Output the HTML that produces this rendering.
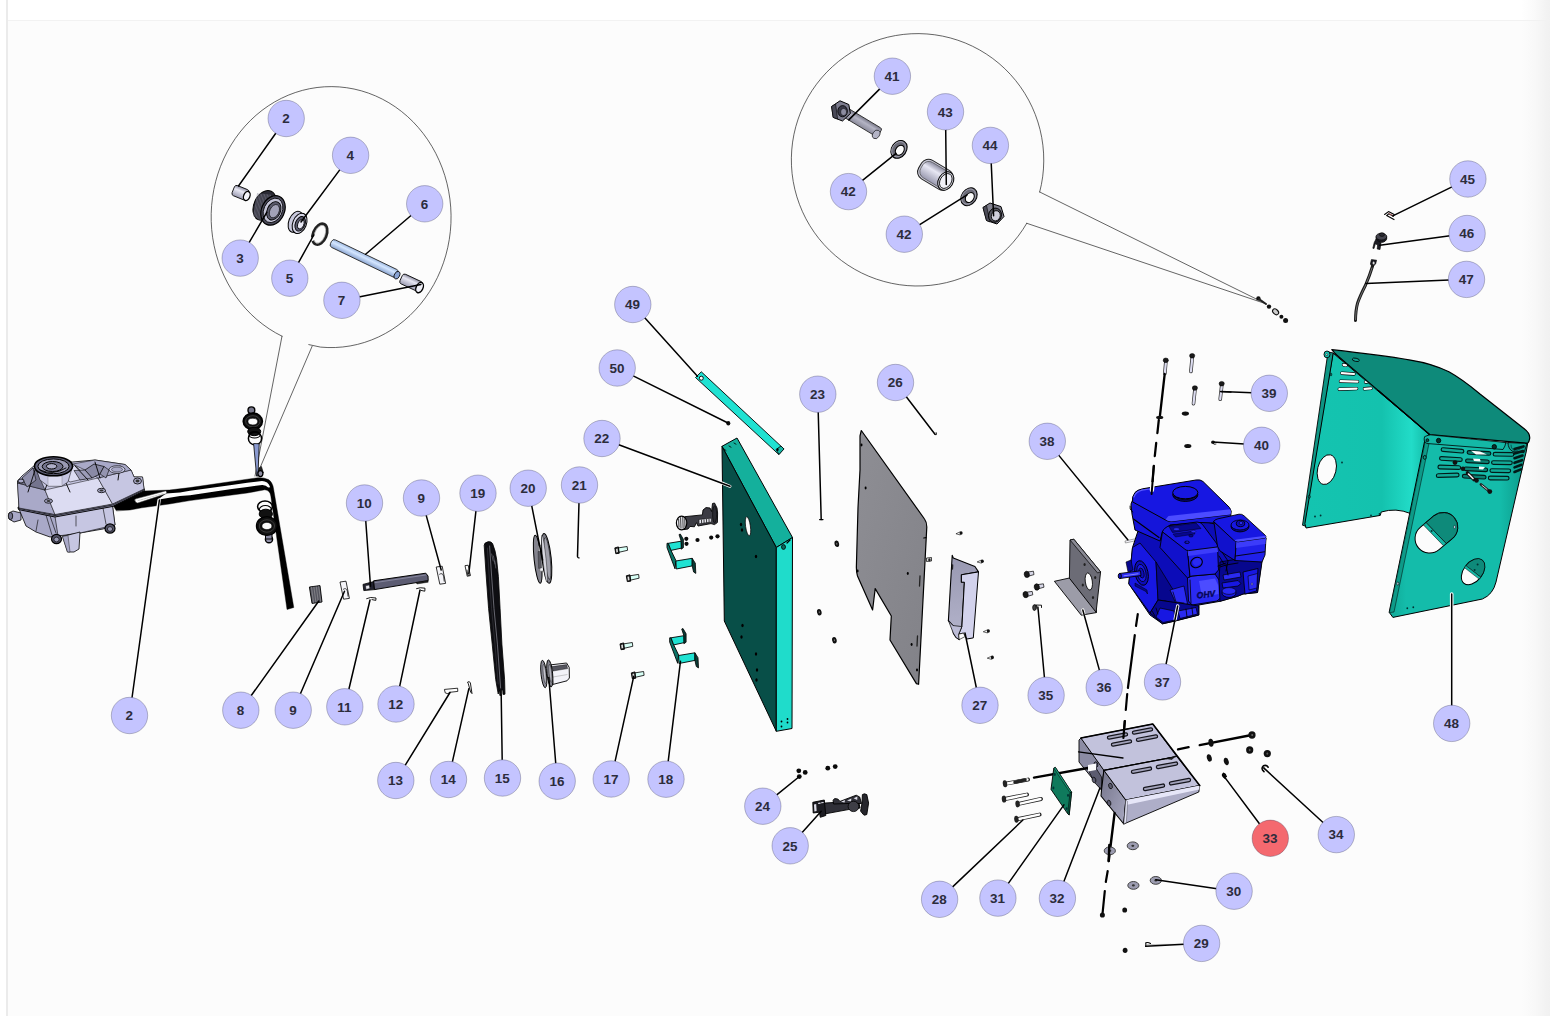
<!DOCTYPE html>
<html><head><meta charset="utf-8"><title>Exploded parts diagram</title>
<style>
html,body{margin:0;padding:0;background:#fff;}
body{width:1554px;height:1016px;overflow:hidden;position:relative;font-family:"Liberation Sans",sans-serif;}
svg{position:absolute;left:0;top:0;display:block}
text{font-family:"Liberation Sans",sans-serif;font-weight:700;font-size:12.6px;fill:#2c2c3c;}
</style></head><body>
<svg width="1554" height="1016" viewBox="0 0 1554 1016">
<defs>
<linearGradient id="rs" x1="0" x2="1" y1="0" y2="0"><stop offset="0" stop-color="#f3f3f3" stop-opacity="0"/><stop offset="0.45" stop-color="#f3f3f3" stop-opacity="0.4"/><stop offset="0.85" stop-color="#f2f2f2" stop-opacity="0.95"/><stop offset="1" stop-color="#f1f1f1" stop-opacity="1"/></linearGradient>
<linearGradient id="gp" x1="0" x2="1" y1="0" y2="1"><stop offset="0" stop-color="#8e8e94"/><stop offset="1" stop-color="#828288"/></linearGradient><linearGradient id="p27" x1="0" x2="0" y1="0" y2="1"><stop offset="0" stop-color="#9898b0"/><stop offset="1" stop-color="#b4b4cc"/></linearGradient><linearGradient id="b32l" x1="0" x2="1" y1="0" y2="1"><stop offset="0" stop-color="#74748a"/><stop offset="1" stop-color="#a8a8c0"/></linearGradient><linearGradient id="cvL" x1="0" x2="1" y1="0" y2="0"><stop offset="0" stop-color="#14c4b0"/><stop offset="0.62" stop-color="#14c2ae"/><stop offset="0.86" stop-color="#22dcc8"/><stop offset="1" stop-color="#12b8a4"/></linearGradient><linearGradient id="cvF" x1="0" x2="1" y1="0" y2="0"><stop offset="0" stop-color="#10a896"/><stop offset="0.12" stop-color="#14bcaa"/><stop offset="0.8" stop-color="#14bcaa"/><stop offset="1" stop-color="#0c9686"/></linearGradient><linearGradient id="cy1" x1="0" x2="0" y1="0" y2="1"><stop offset="0" stop-color="#8c8ca0"/><stop offset="0.35" stop-color="#e8e8f4"/><stop offset="1" stop-color="#9a9ab0"/></linearGradient><linearGradient id="cy2" x1="0" x2="0" y1="0" y2="1"><stop offset="0" stop-color="#787888"/><stop offset="0.4" stop-color="#b4b4c4"/><stop offset="1" stop-color="#8a8a9a"/></linearGradient><linearGradient id="rodb" x1="0" x2="0" y1="0" y2="1"><stop offset="0" stop-color="#9db8e0"/><stop offset="0.4" stop-color="#d4e6ff"/><stop offset="1" stop-color="#8aa4d0"/></linearGradient>
</defs>
<rect x="0" y="0" width="1554" height="1016" fill="#ffffff"/>
<rect x="8" y="21" width="1542" height="995" fill="#fcfcfc"/>
<rect x="1521" y="0" width="29" height="1016" fill="url(#rs)"/>
<rect x="6" y="0" width="2" height="1016" fill="#ebebeb"/>
<rect x="8" y="20" width="1542" height="1" fill="#f2f2f2"/>
<g id="parts">
<path d="M 282,336.2 A 120,130.5 0 1 1 320.5,347.1 L 308.8,344.6" fill="none" stroke="#222" stroke-width="0.7" stroke-linejoin="round" stroke-linecap="round" />
<line x1="282.0" y1="336.2" x2="255.0" y2="476.0" stroke="#222" stroke-width="0.7" stroke-linecap="round" />
<line x1="312.1" y1="346.3" x2="256.5" y2="476.0" stroke="#222" stroke-width="0.7" stroke-linecap="round" />
<path d="M 1039.69,191.99 A 126.25,126.25 0 1 0 1026.76,223.28" fill="none" stroke="#222" stroke-width="0.7" stroke-linejoin="round" stroke-linecap="round" />
<line x1="1039.7" y1="192.0" x2="1266.0" y2="303.8" stroke="#222" stroke-width="0.7" stroke-linecap="round" />
<line x1="1026.8" y1="223.3" x2="1266.0" y2="303.8" stroke="#222" stroke-width="0.7" stroke-linecap="round" />
<polygon points="9.0,513.0 13.0,511.0 21.0,513.0 21.0,520.0 14.0,522.0 9.0,519.0" fill="#a9a9c8" stroke="#000" stroke-width="0.8" stroke-linejoin="round" />
<ellipse cx="10.5" cy="516.0" rx="2.2" ry="3.6" fill="#74748e" stroke="#000" stroke-width="0.8" />
<polygon points="19.0,509.0 55.0,516.5 112.5,506.0 115.0,525.0 103.0,529.0 80.0,533.0 50.0,537.0 36.0,532.0 26.0,526.0" fill="#a9a9c8" stroke="#000" stroke-width="0.8" stroke-linejoin="round" />
<polygon points="55.0,516.5 112.5,506.0 115.0,525.0 80.0,533.0 58.0,536.0" fill="#c6c6e2" stroke="#000" stroke-width="0.6" stroke-linejoin="round" />
<polygon points="62.5,536.5 80.0,532.0 79.0,549.0 74.0,552.0 67.5,552.0" fill="#c6c6e2" stroke="#000" stroke-width="0.8" stroke-linejoin="round" />
<polygon points="62.5,536.5 68.0,535.5 70.0,552.0 67.5,552.0" fill="#a9a9c8" stroke="#000" stroke-width="0.4" stroke-linejoin="round" />
<polygon points="17.5,481.0 22.0,476.0 35.0,465.0 50.0,460.0 72.5,462.0 95.0,460.0 125.0,464.5 131.0,470.0 134.0,477.0 142.5,477.0 144.0,489.0 112.5,504.0 55.0,514.5 19.0,508.0" fill="#c6c6e2" stroke="#000" stroke-width="0.8" stroke-linejoin="round" />
<polygon points="18.0,507.0 55.0,514.2 112.5,503.6 144.0,488.6 144.6,490.6 113.0,506.4 55.0,517.0 18.5,509.6" fill="#8c8ca8" stroke="#000" stroke-width="0.9" stroke-linejoin="round" />
<path d="M 18.2,508.3 L 55,515.6 L 112.8,505 L 144.3,489.6" fill="none" stroke="#000" stroke-width="0.7" stroke-linejoin="round" stroke-linecap="round" />
<polygon points="19.0,508.0 17.5,483.0 45.0,490.0 55.0,514.5" fill="#a9a9c8" stroke="#000" stroke-width="0.5" stroke-linejoin="round" />
<polygon points="55.0,514.5 45.0,490.0 98.0,478.0 112.5,504.0" fill="#dcdcf2" stroke="#000" stroke-width="0.5" stroke-linejoin="round" />
<polygon points="112.5,504.0 98.0,478.0 131.0,470.0 134.0,477.0 142.5,477.0 144.0,489.0" fill="#c6c6e2" stroke="#000" stroke-width="0.5" stroke-linejoin="round" />
<polygon points="72.5,464.0 95.0,460.0 125.0,464.5 131.0,470.0 98.0,478.0 85.0,470.0" fill="#a9a9c8" stroke="#000" stroke-width="0.5" stroke-linejoin="round" />
<polygon points="17.5,483.0 35.0,467.0 45.0,490.0" fill="#74748e" stroke="#000" stroke-width="0.5" stroke-linejoin="round" />
<polygon points="62.0,475.0 75.0,465.0 88.0,478.0 70.0,482.0" fill="#dcdcf2" stroke="#000" stroke-width="0.5" stroke-linejoin="round" />
<polygon points="85.0,470.0 94.0,464.0 104.0,466.5 100.0,474.0 92.0,478.0" fill="#8a8aa6" stroke="#000" stroke-width="0.7" stroke-linejoin="round" />
<polygon points="74.0,470.5 85.0,470.0 92.0,478.0 80.0,480.0" fill="#9c9cb8" stroke="#000" stroke-width="0.6" stroke-linejoin="round" />
<polygon points="100.0,474.0 104.0,466.5 109.0,470.0 106.0,478.0" fill="#9494b0" stroke="#000" stroke-width="0.6" stroke-linejoin="round" />
<polygon points="22.0,478.0 33.0,468.0 36.0,480.0 27.0,487.0" fill="#9090ac" stroke="#000" stroke-width="0.6" stroke-linejoin="round" />
<line x1="35.0" y1="470.0" x2="28.0" y2="492.0" stroke="#000" stroke-width="0.9" stroke-linecap="round" />
<line x1="50.0" y1="476.0" x2="45.0" y2="490.0" stroke="#000" stroke-width="0.9" stroke-linecap="round" />
<line x1="62.0" y1="474.0" x2="70.0" y2="492.0" stroke="#000" stroke-width="0.9" stroke-linecap="round" />
<line x1="75.0" y1="466.0" x2="88.0" y2="480.0" stroke="#000" stroke-width="0.9" stroke-linecap="round" />
<line x1="95.0" y1="462.0" x2="100.0" y2="478.0" stroke="#000" stroke-width="0.9" stroke-linecap="round" />
<line x1="120.0" y1="466.0" x2="118.0" y2="480.0" stroke="#000" stroke-width="0.9" stroke-linecap="round" />
<ellipse cx="117.0" cy="469.5" rx="8.0" ry="3.8" fill="#c6c6e2" stroke="#000" stroke-width="0.6" />
<ellipse cx="117.0" cy="469.5" rx="5.5" ry="2.4" fill="#a9a9c8" stroke="#000" stroke-width="0.4" />
<polygon points="36.0,468.0 72.0,468.0 68.0,482.0 62.0,486.0 48.0,486.0 40.0,480.0" fill="#c6c6e2" stroke="#000" stroke-width="0.5" stroke-linejoin="round" />
<polygon points="48.0,476.0 62.0,476.0 62.0,486.0 48.0,486.0" fill="#dcdcf2" stroke="#555" stroke-width="0.3" stroke-linejoin="round" />
<ellipse cx="53.5" cy="466.3" rx="19.0" ry="9.5" fill="#62627a" stroke="#000" stroke-width="1.6" />
<ellipse cx="53.5" cy="466.3" rx="15.6" ry="7.4" fill="#9a9ab4" stroke="#000" stroke-width="1" />
<ellipse cx="52.6" cy="466.5" rx="10.4" ry="5.0" fill="#74748e" stroke="#000" stroke-width="1" />
<ellipse cx="51.6" cy="466.3" rx="5.2" ry="2.7" fill="#aeaec8" stroke="#000" stroke-width="1" />
<path d="M 40,470 Q 53,476 66,468" fill="none" stroke="#000" stroke-width="0.9" stroke-linejoin="round" stroke-linecap="round" />
<ellipse cx="48.5" cy="501.0" rx="4.0" ry="2.2" fill="#a9a9c8" stroke="#000" stroke-width="0.8" />
<ellipse cx="48.5" cy="501.0" rx="2.0" ry="1.0" fill="#333" stroke="#000" stroke-width="0" />
<ellipse cx="101.5" cy="490.5" rx="4.0" ry="2.2" fill="#a9a9c8" stroke="#000" stroke-width="0.8" />
<ellipse cx="101.5" cy="490.5" rx="2.0" ry="1.0" fill="#333" stroke="#000" stroke-width="0" />
<ellipse cx="137.5" cy="481.0" rx="4.0" ry="3.0" fill="#a9a9c8" stroke="#000" stroke-width="0.8" />
<ellipse cx="137.5" cy="481.0" rx="2.0" ry="1.4" fill="#333" stroke="#000" stroke-width="0" />
<ellipse cx="21.0" cy="481.0" rx="3.0" ry="2.0" fill="#a9a9c8" stroke="#000" stroke-width="0.8" />
<ellipse cx="56.5" cy="539.0" rx="5.0" ry="4.6" fill="#55556a" stroke="#000" stroke-width="1.2" />
<ellipse cx="56.5" cy="539.5" rx="2.6" ry="2.4" fill="#9a9ab4" stroke="#000" stroke-width="0.7" />
<ellipse cx="110.0" cy="528.5" rx="5.0" ry="4.6" fill="#55556a" stroke="#000" stroke-width="1.2" />
<ellipse cx="110.0" cy="529.0" rx="2.6" ry="2.4" fill="#9a9ab4" stroke="#000" stroke-width="0.7" />
<line x1="46.0" y1="515.0" x2="52.0" y2="535.0" stroke="#000" stroke-width="0.6" stroke-linecap="round" />
<line x1="50.0" y1="516.0" x2="56.0" y2="533.0" stroke="#000" stroke-width="0.6" stroke-linecap="round" />
<line x1="103.0" y1="508.0" x2="106.0" y2="524.0" stroke="#000" stroke-width="0.6" stroke-linecap="round" />
<line x1="76.0" y1="516.0" x2="76.0" y2="526.0" stroke="#000" stroke-width="0.6" stroke-linecap="round" />
<line x1="38.0" y1="520.0" x2="36.0" y2="531.0" stroke="#000" stroke-width="0.6" stroke-linecap="round" />
<path d="M 116.2,510.6 L 113.5,506 L 143.8,491 L 169.4,490 L 190,487.6 L 230,481.7 L 247.3,479.2 L 258,477.7 Q 264,477.3 268.5,479.6 Q 272.6,482.2 273.6,489 L 293.8,607.5 L 287,609.5 L 270.8,496 Q 270,490.4 264.8,489.8 L 247.3,493 L 230,495.3 L 190,500.6 L 169.4,504 L 141.8,507.8 L 130,510 Z" fill="#000" stroke="#000" stroke-width="0.4" stroke-linejoin="round" stroke-linecap="round" />
<path d="M 157.6,499.8 L 166,493.6 L 180,492.5 L 190,490.8 L 230,485.2 L 247.3,482.8 L 262,481 Q 268,481 270.2,487.2 L 268.2,487.6 Q 266,484.8 262,485 L 247.3,487 L 230,489.3 L 190,495.2 L 180,495.9 L 169.4,497.7 Z" fill="#fcfcfc" stroke="none" stroke-width="0" stroke-linejoin="round" stroke-linecap="round" />
<path d="M 134.7,500.2 Q 134.4,499.4 136,498.8 L 165.6,490.9 Q 167,491.4 166.6,493.6 L 137.6,503 Q 135.4,502.8 134.7,500.2 Z" fill="#fff" stroke="#444" stroke-width="0.5" stroke-linejoin="round" stroke-linecap="round" />
<path d="M 138,500.6 L 164,493.4" fill="none" stroke="#999" stroke-width="0.5" stroke-linejoin="round" stroke-linecap="round" stroke-dasharray="2 1"/>
<line x1="159.1" y1="500.1" x2="158.2" y2="506.5" stroke="#fcfcfc" stroke-width="3.4" stroke-linecap="round" stroke-linecap="butt"/>
<ellipse cx="251.4" cy="410.3" rx="3.4" ry="3.4" fill="#77778a" stroke="#000" stroke-width="1.4" />
<ellipse cx="252.8" cy="421.3" rx="9.6" ry="8.2" fill="#111" stroke="#000" stroke-width="1.6" />
<ellipse cx="252.8" cy="421.3" rx="7.2" ry="5.6" fill="none" stroke="#666" stroke-width="0.5" />
<ellipse cx="252.8" cy="421.6" rx="4.8" ry="3.3" fill="#fcfcfc" stroke="#000" stroke-width="0.5" />
<ellipse cx="254.2" cy="431.5" rx="6.5" ry="4.2" fill="#111" stroke="#000" stroke-width="1" />
<ellipse cx="255.0" cy="438.5" rx="6.6" ry="6.4" fill="none" stroke="#000" stroke-width="1.5" />
<ellipse cx="254.6" cy="434.8" rx="5.6" ry="3.2" fill="none" stroke="#000" stroke-width="1.2" />
<polygon points="253.6,443.5 259.2,443.8 258.0,476.0 256.6,476.0" fill="#8a9ad0" stroke="#000" stroke-width="0.8" stroke-linejoin="round" />
<ellipse cx="265.0" cy="506.6" rx="7.4" ry="5.6" fill="none" stroke="#000" stroke-width="1.5" />
<ellipse cx="265.4" cy="509.5" rx="6.0" ry="4.0" fill="none" stroke="#000" stroke-width="1.1" />
<ellipse cx="265.8" cy="514.0" rx="6.6" ry="4.8" fill="#111" stroke="#000" stroke-width="1" />
<ellipse cx="269.0" cy="539.2" rx="3.6" ry="3.6" fill="#9090a8" stroke="#000" stroke-width="1.4" />
<polygon points="265.5,533.0 272.0,533.0 272.0,539.0 265.5,539.0" fill="#8888a0" stroke="#000" stroke-width="1" stroke-linejoin="round" />
<ellipse cx="266.9" cy="526.0" rx="10.4" ry="9.4" fill="#111" stroke="#000" stroke-width="1.4" />
<ellipse cx="266.9" cy="526.0" rx="7.6" ry="6.2" fill="none" stroke="#666" stroke-width="0.5" />
<ellipse cx="266.9" cy="526.0" rx="5.0" ry="3.6" fill="#fcfcfc" stroke="#000" stroke-width="0.5" />
<polygon points="259.0,468.0 261.4,466.4 263.4,473.0 258.0,473.0" fill="#222" stroke="#000" stroke-width="0.6" stroke-linejoin="round" />
<ellipse cx="260.4" cy="473.6" rx="2.5" ry="3.0" fill="#8e8ea2" stroke="#000" stroke-width="1.3" />
<polygon points="722.0,446.3 737.0,438.0 792.5,537.5 776.3,547.5" fill="#14b09c" stroke="#000" stroke-width="1" stroke-linejoin="round" />
<polygon points="722.0,446.3 776.3,547.5 776.3,731.3 724.3,621.0" fill="#084f48" stroke="#000" stroke-width="1" stroke-linejoin="round" />
<polygon points="776.3,547.5 792.5,537.5 792.0,728.5 776.3,731.3" fill="#1fdccb" stroke="#000" stroke-width="1" stroke-linejoin="round" />
<ellipse cx="748.0" cy="526.3" rx="2.4" ry="9.6" fill="#fcfcfc" stroke="#000" stroke-width="0.7" transform="rotate(-8 748.0 526.3)" />
<ellipse cx="741.0" cy="524.5" rx="1.2" ry="1.8" fill="#000" stroke="#000" stroke-width="0" />
<ellipse cx="742.0" cy="530.0" rx="1.2" ry="1.8" fill="#000" stroke="#000" stroke-width="0" />
<ellipse cx="756.0" cy="556.5" rx="1.2" ry="1.8" fill="#000" stroke="#000" stroke-width="0" />
<ellipse cx="742.5" cy="625.5" rx="1.2" ry="1.8" fill="#000" stroke="#000" stroke-width="0" />
<ellipse cx="741.5" cy="637.0" rx="1.2" ry="1.8" fill="#000" stroke="#000" stroke-width="0" />
<ellipse cx="756.0" cy="654.0" rx="1.2" ry="1.8" fill="#000" stroke="#000" stroke-width="0" />
<ellipse cx="757.0" cy="670.0" rx="1.2" ry="1.8" fill="#000" stroke="#000" stroke-width="0" />
<ellipse cx="756.5" cy="680.0" rx="1.2" ry="1.8" fill="#000" stroke="#000" stroke-width="0" />
<ellipse cx="781.5" cy="721.5" rx="0.9" ry="0.9" fill="#000" stroke="#000" stroke-width="0" />
<ellipse cx="787.5" cy="722.5" rx="0.9" ry="0.9" fill="#000" stroke="#000" stroke-width="0" />
<ellipse cx="781.5" cy="726.5" rx="0.9" ry="0.9" fill="#000" stroke="#000" stroke-width="0" />
<ellipse cx="787.5" cy="719.0" rx="0.9" ry="0.9" fill="#000" stroke="#000" stroke-width="0" />
<ellipse cx="783.5" cy="547.0" rx="2.0" ry="2.4" fill="#0a6a5e" stroke="#000" stroke-width="0.8" />
<path d="M 724,449 l 2,1.5 M 729,446 l 2,1.2 M 734,443 l 2,1.2" fill="none" stroke="#000" stroke-width="0.8" stroke-linejoin="round" stroke-linecap="round" />
<path d="M 790,540 l -3,3" fill="none" stroke="#000" stroke-width="1.2" stroke-linejoin="round" stroke-linecap="round" />
<line x1="722.0" y1="483.0" x2="730.0" y2="486.3" stroke="#fcfcfc" stroke-width="3" stroke-linecap="round" />
<polygon points="695.5,377.5 701.3,371.8 783.8,448.8 778.8,454.5" fill="#1fe2d2" stroke="#000" stroke-width="0.9" stroke-linejoin="round" />
<ellipse cx="701.3" cy="378.2" rx="2.0" ry="2.0" fill="#fcfcfc" stroke="#000" stroke-width="0.9" />
<polygon points="776.0,449.5 781.0,446.0 784.0,449.0 779.0,454.5" fill="#17b5a5" stroke="#000" stroke-width="0.8" stroke-linejoin="round" />
<ellipse cx="777.6" cy="449.5" rx="1.0" ry="1.5" fill="#000" stroke="#000" stroke-width="0" />
<ellipse cx="728.3" cy="423.3" rx="2.0" ry="2.2" fill="#111" stroke="#000" stroke-width="0" />
<polygon points="667.0,543.3 668.3,543.3 671.0,550.4 675.9,560.5 675.0,568.8 667.0,547.6" fill="#0b7568" stroke="#000" stroke-width="0.9" stroke-linejoin="round" />
<polygon points="668.3,543.3 681.2,541.2 681.6,548.1 671.0,550.4" fill="#1fe2d2" stroke="#000" stroke-width="0.9" stroke-linejoin="round" />
<polygon points="679.0,534.6 680.3,534.0 683.4,539.3 683.4,547.7 681.2,549.2 681.2,541.2" fill="#0a3c36" stroke="#000" stroke-width="0.8" stroke-linejoin="round" />
<polygon points="675.9,561.0 692.2,558.3 692.2,565.9 676.3,569.0" fill="#1fe2d2" stroke="#000" stroke-width="0.9" stroke-linejoin="round" />
<polygon points="692.2,558.3 695.3,563.2 695.8,573.4 693.6,572.0 692.2,565.9" fill="#0a3c36" stroke="#000" stroke-width="0.8" stroke-linejoin="round" />
<polygon points="669.7,637.8 671.0,637.8 673.7,644.9 678.6,655.0 677.7,663.3 669.7,642.1" fill="#0b7568" stroke="#000" stroke-width="0.9" stroke-linejoin="round" />
<polygon points="671.0,637.8 683.9,635.7 684.3,642.6 673.7,644.9" fill="#1fe2d2" stroke="#000" stroke-width="0.9" stroke-linejoin="round" />
<polygon points="681.7,629.1 683.0,628.5 686.1,633.8 686.1,642.2 683.9,643.7 683.9,635.7" fill="#0a3c36" stroke="#000" stroke-width="0.8" stroke-linejoin="round" />
<polygon points="678.6,655.5 694.9,652.8 694.9,660.4 679.0,663.5" fill="#1fe2d2" stroke="#000" stroke-width="0.9" stroke-linejoin="round" />
<polygon points="694.9,652.8 698.0,657.7 698.5,667.9 696.3,666.5 694.9,660.4" fill="#0a3c36" stroke="#000" stroke-width="0.8" stroke-linejoin="round" />
<polygon points="618.3,547.9 627.1,546.5 627.6,550.3 618.8,552.3" fill="#d8fff6" stroke="#000" stroke-width="0.8" stroke-linejoin="round" />
<polygon points="614.8,547.9 618.4,546.9 619.2,553.3 615.8,553.7" fill="#222" stroke="#000" stroke-width="0.9" stroke-linejoin="round" />
<polygon points="616.0,548.9 617.6,548.5 618.0,552.1 616.4,552.5" fill="#ddd" stroke="#000" stroke-width="0" stroke-linejoin="round" />
<polygon points="629.8,575.8 638.6,574.4 639.1,578.2 630.3,580.2" fill="#d8fff6" stroke="#000" stroke-width="0.8" stroke-linejoin="round" />
<polygon points="626.3,575.8 629.9,574.8 630.7,581.2 627.3,581.6" fill="#222" stroke="#000" stroke-width="0.9" stroke-linejoin="round" />
<polygon points="627.5,576.8 629.1,576.4 629.5,580.0 627.9,580.4" fill="#ddd" stroke="#000" stroke-width="0" stroke-linejoin="round" />
<polygon points="623.5,643.9 632.3,642.5 632.8,646.3 624.0,648.3" fill="#d8fff6" stroke="#000" stroke-width="0.8" stroke-linejoin="round" />
<polygon points="620.0,643.9 623.6,642.9 624.4,649.3 621.0,649.7" fill="#222" stroke="#000" stroke-width="0.9" stroke-linejoin="round" />
<polygon points="621.2,644.9 622.8,644.5 623.2,648.1 621.6,648.5" fill="#ddd" stroke="#000" stroke-width="0" stroke-linejoin="round" />
<polygon points="634.8,672.9 643.6,671.5 644.1,675.3 635.3,677.3" fill="#d8fff6" stroke="#000" stroke-width="0.8" stroke-linejoin="round" />
<polygon points="631.3,672.9 634.9,671.9 635.7,678.3 632.3,678.7" fill="#222" stroke="#000" stroke-width="0.9" stroke-linejoin="round" />
<polygon points="632.5,673.9 634.1,673.5 634.5,677.1 632.9,677.5" fill="#ddd" stroke="#000" stroke-width="0" stroke-linejoin="round" />
<polygon points="684.7,516.7 702.4,514.9 703.0,510.0 706.0,507.6 710.0,508.0 711.6,511.5 712.5,503.5 714.5,503.0 717.0,508.0 717.6,513.0 717.4,522.5 714.5,524.6 711.0,523.6 698.0,526.0 696.6,522.6 694.4,526.8 690.0,526.4 688.0,529.0 684.0,529.6" fill="#3c3c44" stroke="#000" stroke-width="0.9" stroke-linejoin="round" />
<polygon points="699.0,519.5 711.3,518.2 711.3,522.0 699.1,523.8" fill="#e6e6ee" stroke="#000" stroke-width="0.5" stroke-linejoin="round" />
<path d="M 701.5,520 l 0.1,3 M 704,519.8 l 0.1,3 M 706.5,519.5 l 0.1,3 M 709,519.2 l 0.1,3" fill="none" stroke="#222" stroke-width="0.9" stroke-linejoin="round" stroke-linecap="round" />
<ellipse cx="714.6" cy="514.4" rx="2.0" ry="8.6" fill="#2a2a30" stroke="#000" stroke-width="0.6" />
<ellipse cx="681.6" cy="523.0" rx="5.2" ry="6.8" fill="#f0f0f6" stroke="#000" stroke-width="1.2" />
<path d="M 678.6,519 l 0.4,8 M 680.6,517.6 l 0.4,10.6 M 682.8,517.4 l 0.3,10.8 M 684.8,518.6 l 0.2,8.4" fill="none" stroke="#222" stroke-width="0.9" stroke-linejoin="round" stroke-linecap="round" />
<ellipse cx="686.3" cy="538.8" rx="2.1" ry="2.1" fill="#0a0a0a" stroke="#000" stroke-width="0" />
<ellipse cx="697.5" cy="540.0" rx="2.1" ry="2.1" fill="#0a0a0a" stroke="#000" stroke-width="0" />
<ellipse cx="711.2" cy="537.6" rx="2.1" ry="2.1" fill="#0a0a0a" stroke="#000" stroke-width="0" />
<ellipse cx="717.5" cy="536.3" rx="2.1" ry="2.1" fill="#0a0a0a" stroke="#000" stroke-width="0" />
<ellipse cx="686.5" cy="543.8" rx="2.1" ry="2.1" fill="#0a0a0a" stroke="#000" stroke-width="0" />
<ellipse cx="836.8" cy="543.8" rx="2.3" ry="3.3" fill="#111" stroke="#000" stroke-width="0" transform="rotate(-10 836.8 543.8)" />
<ellipse cx="836.8" cy="543.8" rx="0.6" ry="1.0" fill="#777" stroke="#000" stroke-width="0" transform="rotate(-10 836.8 543.8)" />
<ellipse cx="819.3" cy="612.2" rx="2.3" ry="3.3" fill="#111" stroke="#000" stroke-width="0" transform="rotate(-10 819.3 612.2)" />
<ellipse cx="819.3" cy="612.2" rx="0.6" ry="1.0" fill="#777" stroke="#000" stroke-width="0" transform="rotate(-10 819.3 612.2)" />
<ellipse cx="834.4" cy="640.2" rx="2.3" ry="3.3" fill="#111" stroke="#000" stroke-width="0" transform="rotate(-10 834.4 640.2)" />
<ellipse cx="834.4" cy="640.2" rx="0.6" ry="1.0" fill="#777" stroke="#000" stroke-width="0" transform="rotate(-10 834.4 640.2)" />
<path d="M 861.3,430.5 L 924.5,519 Q 926.8,522 926.8,527 L 918.6,684.3 L 916.4,683.6 L 890,640 L 891.3,616 L 875.2,588.6 L 872.6,610 L 857.5,576 Q 856.2,572 856.4,566 L 858,507.5 L 860,470 L 860,436 Z" fill="url(#gp)" stroke="#000" stroke-width="1.2" stroke-linejoin="round" stroke-linecap="round" />
<ellipse cx="861.5" cy="445.0" rx="1.0" ry="1.4" fill="#000" stroke="#000" stroke-width="0" />
<ellipse cx="865.6" cy="488.0" rx="1.0" ry="1.4" fill="#000" stroke="#000" stroke-width="0" />
<ellipse cx="857.6" cy="571.0" rx="1.0" ry="1.4" fill="#000" stroke="#000" stroke-width="0" />
<ellipse cx="907.8" cy="573.5" rx="1.0" ry="1.4" fill="#000" stroke="#000" stroke-width="0" />
<ellipse cx="911.6" cy="644.5" rx="1.0" ry="1.4" fill="#000" stroke="#000" stroke-width="0" />
<ellipse cx="917.0" cy="670.0" rx="1.0" ry="1.4" fill="#000" stroke="#000" stroke-width="0" />
<line x1="920.0" y1="576.0" x2="919.5" y2="586.0" stroke="#222" stroke-width="1.3" stroke-linecap="round" />
<line x1="917.5" y1="636.0" x2="917.0" y2="646.0" stroke="#222" stroke-width="1.3" stroke-linecap="round" />
<line x1="923.7" y1="538.0" x2="926.0" y2="537.6" stroke="#000" stroke-width="1.2" stroke-linecap="round" />
<path d="M 935,434.3 q 2.2,1.8 1.2,-1.6" fill="none" stroke="#000" stroke-width="1" stroke-linejoin="round" stroke-linecap="round" />
<line x1="819.6" y1="519.6" x2="823.0" y2="519.6" stroke="#000" stroke-width="1.2" stroke-linecap="round" />
<path d="M 577.5,556.3 q 0.3,2 1.6,1.6" fill="none" stroke="#000" stroke-width="1.2" stroke-linejoin="round" stroke-linecap="round" />
<path d="M 956.3,533.6 L 960.3,531.8 L 960.3,534.6 Z" fill="#fff" stroke="#000" stroke-width="0.6" stroke-linejoin="round" stroke-linecap="round" /><ellipse cx="961.1" cy="533.0" rx="1.5" ry="1.8" fill="#111" stroke="#000" stroke-width="0" />
<path d="M 977.5,561.8 L 981.5,560.0 L 981.5,562.8 Z" fill="#fff" stroke="#000" stroke-width="0.6" stroke-linejoin="round" stroke-linecap="round" /><ellipse cx="982.3" cy="561.2" rx="1.5" ry="1.8" fill="#111" stroke="#000" stroke-width="0" />
<path d="M 983.6,631.6 L 987.6,629.8 L 987.6,632.6 Z" fill="#fff" stroke="#000" stroke-width="0.6" stroke-linejoin="round" stroke-linecap="round" /><ellipse cx="988.4" cy="631.0" rx="1.5" ry="1.8" fill="#111" stroke="#000" stroke-width="0" />
<path d="M 987.6,658.0 L 991.6,656.2 L 991.6,659.0 Z" fill="#fff" stroke="#000" stroke-width="0.6" stroke-linejoin="round" stroke-linecap="round" /><ellipse cx="992.4" cy="657.4" rx="1.5" ry="1.8" fill="#111" stroke="#000" stroke-width="0" />
<polygon points="926.5,558.0 931.5,557.5 931.5,561.0 926.5,561.5" fill="#ddd" stroke="#000" stroke-width="0.7" stroke-linejoin="round" />
<ellipse cx="929.4" cy="559.8" rx="1.2" ry="1.6" fill="#222" stroke="#000" stroke-width="0" />
<polygon points="952.2,555.2 953.3,557.9 974.9,566.5 978.5,571.9 961.4,574.8 961.4,582.2 964.4,582.2 961.9,626.6 958.7,634.2 959.2,639.6 956.0,637.4 953.3,633.1 952.9,625.5 948.4,620.6" fill="url(#p27)" stroke="#000" stroke-width="1.1" stroke-linejoin="round" />
<polygon points="961.4,574.8 978.5,571.9 973.3,637.9 966.8,639.0 963.5,633.1 958.7,634.2 961.9,626.6 964.4,582.2 961.4,582.2" fill="#d2d2ec" stroke="#000" stroke-width="1" stroke-linejoin="round" />
<polygon points="948.4,620.6 952.9,625.5 961.9,626.6 958.7,634.2 959.2,639.6 956.0,637.4 953.3,633.1" fill="#bcbcd6" stroke="#000" stroke-width="0.7" stroke-linejoin="round" />
<polygon points="958.7,634.2 963.5,633.1 965.0,636.6 959.2,639.6" fill="#fcfcfc" stroke="#000" stroke-width="0.6" stroke-linejoin="round" />
<line x1="952.6" y1="565.0" x2="952.4" y2="569.0" stroke="#222" stroke-width="1.4" stroke-linecap="round" />
<polygon points="1054.4,581.3 1069.4,578.0 1096.3,610.0 1096.3,612.6 1081.3,615.2" fill="#9c9ca8" stroke="#000" stroke-width="0.9" stroke-linejoin="round" />
<polygon points="1070.0,540.0 1073.8,539.2 1100.6,571.8 1096.3,610.2 1096.3,612.6 1069.4,578.2" fill="#6c6c76" stroke="#000" stroke-width="0.9" stroke-linejoin="round" />
<polygon points="1070.0,540.0 1073.8,539.2 1100.6,571.8 1097.6,573.0" fill="#8a8a94" stroke="#000" stroke-width="0.7" stroke-linejoin="round" />
<ellipse cx="1088.8" cy="581.5" rx="3.5" ry="8.6" fill="#fcfcfc" stroke="#000" stroke-width="0.8" transform="rotate(-8 1088.8 581.5)" />
<ellipse cx="1084.6" cy="564.5" rx="1.1" ry="1.6" fill="#222" stroke="#000" stroke-width="0" />
<ellipse cx="1095.2" cy="577.5" rx="1.1" ry="1.6" fill="#222" stroke="#000" stroke-width="0" />
<ellipse cx="1082.8" cy="585.0" rx="1.1" ry="1.6" fill="#222" stroke="#000" stroke-width="0" />
<ellipse cx="1093.0" cy="597.5" rx="1.1" ry="1.6" fill="#222" stroke="#000" stroke-width="0" />
<polygon points="1027.9,572.0 1033.4,571.2 1034.0,574.6 1028.4,576.2" fill="#d8d8e8" stroke="#000" stroke-width="0.7" stroke-linejoin="round" />
<ellipse cx="1026.8" cy="574.4" rx="2.6" ry="3.2" fill="#1a1a1a" stroke="#000" stroke-width="0.6" transform="rotate(-10 1026.8 574.4)" />
<polygon points="1037.9,584.6 1043.4,583.8 1044.0,587.2 1038.4,588.8" fill="#d8d8e8" stroke="#000" stroke-width="0.7" stroke-linejoin="round" />
<ellipse cx="1036.8" cy="587.0" rx="2.6" ry="3.2" fill="#1a1a1a" stroke="#000" stroke-width="0.6" transform="rotate(-10 1036.8 587.0)" />
<polygon points="1026.7,592.2 1032.2,591.4 1032.8,594.8 1027.2,596.4" fill="#d8d8e8" stroke="#000" stroke-width="0.7" stroke-linejoin="round" />
<ellipse cx="1025.6" cy="594.6" rx="2.6" ry="3.2" fill="#1a1a1a" stroke="#000" stroke-width="0.6" transform="rotate(-10 1025.6 594.6)" />
<ellipse cx="1034.4" cy="607.6" rx="1.7" ry="2.9" fill="#444" stroke="#000" stroke-width="0.8" />
<path d="M 1035,605 L 1041.5,605.2 L 1041.5,607.5 M 1036.5,605.5 L 1037,609" fill="none" stroke="#000" stroke-width="0.9" stroke-linejoin="round" stroke-linecap="round" />
<line x1="1082.8" y1="610.0" x2="1083.8" y2="613.6" stroke="#fcfcfc" stroke-width="3.2" stroke-linecap="round" />
<polygon points="1125.0,541.0 1136.0,538.6 1136.4,540.6 1125.4,543.0" fill="#f4f4fa" stroke="#555" stroke-width="0.5" stroke-linejoin="round" />
<line x1="1165.8" y1="362.3" x2="1164.8" y2="373.5" stroke="#333" stroke-width="3.6" stroke-linecap="round" />
<line x1="1165.8" y1="363.3" x2="1164.8" y2="373.5" stroke="#dcdcf0" stroke-width="2.2" stroke-linecap="round" />
<ellipse cx="1165.8" cy="360.3" rx="2.6" ry="2.3" fill="#1a1a1a" stroke="#000" stroke-width="0.5" />
<line x1="1192.2" y1="357.8" x2="1190.9" y2="371.5" stroke="#333" stroke-width="3.6" stroke-linecap="round" />
<line x1="1192.2" y1="358.8" x2="1190.9" y2="371.5" stroke="#dcdcf0" stroke-width="2.2" stroke-linecap="round" />
<ellipse cx="1192.2" cy="355.8" rx="2.6" ry="2.3" fill="#1a1a1a" stroke="#000" stroke-width="0.5" />
<line x1="1194.9" y1="390.0" x2="1193.5" y2="403.6" stroke="#333" stroke-width="3.6" stroke-linecap="round" />
<line x1="1194.9" y1="391.0" x2="1193.5" y2="403.6" stroke="#dcdcf0" stroke-width="2.2" stroke-linecap="round" />
<ellipse cx="1194.9" cy="388.0" rx="2.6" ry="2.3" fill="#1a1a1a" stroke="#000" stroke-width="0.5" />
<line x1="1221.7" y1="385.7" x2="1220.2" y2="399.2" stroke="#333" stroke-width="3.6" stroke-linecap="round" />
<line x1="1221.7" y1="386.7" x2="1220.2" y2="399.2" stroke="#dcdcf0" stroke-width="2.2" stroke-linecap="round" />
<ellipse cx="1221.7" cy="383.7" rx="2.6" ry="2.3" fill="#1a1a1a" stroke="#000" stroke-width="0.5" />
<line x1="1164.7" y1="374.0" x2="1159.8" y2="417.0" stroke="#000" stroke-width="2.3" stroke-linecap="round" />
<ellipse cx="1159.7" cy="417.4" rx="3.6" ry="1.7" fill="#111" stroke="#000" stroke-width="0" />
<line x1="1158.8" y1="420.0" x2="1157.4" y2="433.0" stroke="#000" stroke-width="2.3" stroke-linecap="round" stroke-linecap="butt"/>
<line x1="1156.2" y1="443.0" x2="1154.8" y2="456.0" stroke="#000" stroke-width="2.3" stroke-linecap="round" stroke-linecap="butt"/>
<line x1="1153.8" y1="466.0" x2="1152.0" y2="488.0" stroke="#000" stroke-width="2.3" stroke-linecap="round" stroke-linecap="butt"/>
<ellipse cx="1185.4" cy="413.6" rx="3.6" ry="2.1" fill="#111" stroke="#000" stroke-width="0" />
<ellipse cx="1187.8" cy="446.0" rx="3.6" ry="2.1" fill="#111" stroke="#000" stroke-width="0" />
<ellipse cx="1213.0" cy="442.2" rx="2.0" ry="1.7" fill="#222" stroke="#000" stroke-width="0" />
<path d="M 1213,443.5 q 1,1.6 3,0.6" fill="none" stroke="#000" stroke-width="0.8" stroke-linejoin="round" stroke-linecap="round" />
<line x1="1220.7" y1="391.6" x2="1231.0" y2="392.2" stroke="#000" stroke-width="1.2" stroke-linecap="round" />
<polygon points="1132.5,547.5 1128.8,583.8 1150.0,615.0 1162.5,623.8 1175.0,621.0 1198.8,615.0 1198.8,605.0 1220.0,601.3 1237.5,596.3 1243.0,594.0 1257.5,592.5 1262.0,560.0 1266.0,538.0 1200.0,520.0 1140.0,525.0" fill="#0c0cb8" stroke="#000" stroke-width="1" stroke-linejoin="round" />
<polygon points="1132.5,547.5 1140.0,543.0 1156.0,562.0 1158.0,600.0 1150.0,613.0 1128.8,583.8" fill="#1717e2" stroke="#000" stroke-width="0.8" stroke-linejoin="round" />
<ellipse cx="1141.5" cy="573.0" rx="6.5" ry="12.5" fill="#0c0cb8" stroke="#000" stroke-width="0.9" transform="rotate(-12 1141.5 573.0)" />
<ellipse cx="1141.5" cy="573.0" rx="4.4" ry="8.8" fill="#1717e2" stroke="#000" stroke-width="0.7" transform="rotate(-12 1141.5 573.0)" />
<ellipse cx="1141.5" cy="573.0" rx="2.4" ry="5.0" fill="#0c0cb8" stroke="#000" stroke-width="0.7" transform="rotate(-12 1141.5 573.0)" />
<polygon points="1135.0,583.0 1147.0,590.0 1147.5,594.0 1146.0,591.5 1135.0,586.0" fill="#07078e" stroke="#000" stroke-width="0.5" stroke-linejoin="round" />
<polygon points="1119.5,573.5 1140.5,570.8 1141.0,575.5 1120.0,578.5" fill="#2a2af2" stroke="#000" stroke-width="0.9" stroke-linejoin="round" />
<ellipse cx="1119.8" cy="576.0" rx="1.6" ry="2.6" fill="#0c0cb8" stroke="#000" stroke-width="0.9" />
<line x1="1124.0" y1="575.8" x2="1138.0" y2="573.8" stroke="#8c8cff" stroke-width="0.9" stroke-linecap="round" />
<polygon points="1126.0,562.0 1131.0,560.0 1133.0,570.0 1128.0,572.0" fill="#07078e" stroke="#000" stroke-width="0.6" stroke-linejoin="round" />
<polygon points="1156.0,562.0 1172.0,588.0 1186.0,604.0 1176.0,607.0 1166.0,601.0 1158.0,600.0" fill="#07078e" stroke="#000" stroke-width="0.7" stroke-linejoin="round" />
<polygon points="1170.0,590.0 1184.0,586.0 1187.5,604.0 1177.0,606.0" fill="#2a2af2" stroke="#000" stroke-width="0.7" stroke-linejoin="round" />
<path d="M 1173,592 L 1176,602 L 1184,603" fill="none" stroke="#000" stroke-width="0.7" stroke-linejoin="round" stroke-linecap="round" />
<polygon points="1187.5,578.0 1192.0,576.0 1215.0,574.0 1219.0,580.0 1220.5,598.0 1217.0,601.0 1192.0,605.0 1188.5,601.0" fill="#2a2af2" stroke="#000" stroke-width="0.9" stroke-linejoin="round" />
<polygon points="1199.0,581.0 1215.0,578.5 1218.0,585.0 1218.5,594.0 1202.0,597.5" fill="#4c4cff" stroke="none" stroke-width="0" stroke-linejoin="round" />
<text x="1197" y="598.6" style="font-size:8.6px;font-weight:700;font-style:italic;fill:#04045a;stroke:#04045a;stroke-width:0.4" transform="rotate(-7 1197 598.6)">OHV</text>
<path d="M 1190,580 L 1191,603 M 1192,605 L 1190,611 L 1198.8,608" fill="none" stroke="#000" stroke-width="0.8" stroke-linejoin="round" stroke-linecap="round" />
<polygon points="1150.0,613.0 1158.0,600.0 1186.0,604.0 1192.0,605.0 1198.8,606.0 1198.8,615.0 1175.0,621.0 1162.5,623.8" fill="#07078e" stroke="#000" stroke-width="0.9" stroke-linejoin="round" />
<polygon points="1160.0,608.0 1174.0,611.0 1175.0,620.0 1163.0,622.5 1156.0,617.0" fill="#1717e2" stroke="#000" stroke-width="0.7" stroke-linejoin="round" />
<polygon points="1178.0,611.0 1196.0,607.5 1197.5,614.0 1180.0,618.5" fill="#2a2af2" stroke="#000" stroke-width="0.7" stroke-linejoin="round" />
<path d="M 1152,611 l 3,5 M 1156,608 l 2,6 M 1186,609 l 1,8 M 1192,608 l 1,8" fill="none" stroke="#000" stroke-width="0.8" stroke-linejoin="round" stroke-linecap="round" />
<polygon points="1220.0,562.0 1243.0,558.0 1262.0,562.0 1257.5,592.5 1243.0,594.0 1237.5,596.3 1220.0,601.3 1219.0,580.0" fill="#07078e" stroke="#000" stroke-width="0.8" stroke-linejoin="round" />
<polygon points="1243.0,572.0 1258.0,568.5 1256.5,591.0 1245.0,594.0" fill="#1717e2" stroke="#000" stroke-width="0.8" stroke-linejoin="round" />
<polygon points="1248.0,576.0 1257.5,573.5 1256.8,588.0 1249.0,590.0" fill="#2a2af2" stroke="#000" stroke-width="0.6" stroke-linejoin="round" />
<ellipse cx="1252.0" cy="584.0" rx="0.9" ry="1.2" fill="#9c9cff" stroke="#000" stroke-width="0.4" />
<polygon points="1223.0,575.0 1240.0,572.0 1241.0,577.0 1224.0,580.0" fill="#2a2af2" stroke="#000" stroke-width="0.7" stroke-linejoin="round" />
<polygon points="1222.0,583.0 1238.0,580.5 1241.0,583.5 1238.0,586.0 1223.0,588.0" fill="#1717e2" stroke="#000" stroke-width="0.7" stroke-linejoin="round" />
<ellipse cx="1229.0" cy="593.0" rx="7.0" ry="4.4" fill="#1717e2" stroke="#000" stroke-width="0.8" />
<ellipse cx="1229.0" cy="591.0" rx="7.0" ry="3.4" fill="#2a2af2" stroke="#000" stroke-width="0.6" />
<path d="M 1220,567 l 6,-2 l 2,10 M 1226,565 l 12,-2" fill="none" stroke="#000" stroke-width="0.9" stroke-linejoin="round" stroke-linecap="round" />
<polygon points="1131.0,504.0 1135.0,494.0 1170.0,520.0 1231.0,511.0 1230.5,524.0 1213.0,523.0 1200.0,522.5 1170.0,525.0 1162.5,531.3 1160.0,541.0 1135.0,530.0 1132.0,514.0" fill="#1515da" stroke="#000" stroke-width="1" stroke-linejoin="round" />
<path d="M 1133.5,519 L 1159,537.5" fill="none" stroke="#000" stroke-width="1.1" stroke-linejoin="round" stroke-linecap="round" />
<path d="M 1130,506 Q 1129,509 1132.5,512" fill="none" stroke="#000" stroke-width="1" stroke-linejoin="round" stroke-linecap="round" />
<path d="M 1132.5,501.5 Q 1131.5,497 1135,492.5 Q 1137,490 1142.5,488.8 L 1196,480 Q 1200.5,479.3 1203,481.5 L 1229.5,507.5 Q 1232,510.5 1230.5,514.5 L 1171,521.5 Q 1168,521.5 1165.5,520 Z" fill="#1717e2" stroke="#000" stroke-width="1" stroke-linejoin="round" stroke-linecap="round" />
<path d="M 1168.5,516 L 1230.3,509.3 Q 1231.8,512 1230.5,514.6 L 1171,521.5 Q 1167.5,521 1165.5,519.6 Z" fill="#4c4cff" stroke="none" stroke-width="0" stroke-linejoin="round" stroke-linecap="round" />
<path d="M 1134,497 Q 1135.5,492 1142,490.2 L 1150,489" fill="none" stroke="#5a5aff" stroke-width="1.2" stroke-linejoin="round" stroke-linecap="round" />
<ellipse cx="1185.3" cy="494.8" rx="12.6" ry="6.6" fill="#07078e" stroke="#000" stroke-width="1" />
<ellipse cx="1185.3" cy="492.6" rx="12.6" ry="6.2" fill="#1717e2" stroke="#000" stroke-width="1" />
<path d="M 1174,496.5 Q 1185,503.5 1196.5,496.5" fill="none" stroke="#000" stroke-width="0.8" stroke-linejoin="round" stroke-linecap="round" />
<polygon points="1160.0,547.5 1162.5,531.5 1187.5,550.0 1190.0,576.5 1187.5,578.0" fill="#1111cc" stroke="#000" stroke-width="0.9" stroke-linejoin="round" />
<polygon points="1187.5,550.0 1217.5,546.3 1218.5,570.0 1215.0,574.0 1192.0,576.0 1190.0,576.5" fill="#2020ea" stroke="#000" stroke-width="0.9" stroke-linejoin="round" />
<polygon points="1187.5,550.0 1217.5,546.3 1218.0,552.0 1188.3,556.0" fill="#3c3cfa" stroke="none" stroke-width="0" stroke-linejoin="round" />
<path d="M 1162.5,531.5 Q 1164,527.5 1170,525.5 L 1197,522 Q 1200.5,522 1202.5,524.5 L 1217,544 Q 1218.3,546 1217,547 L 1188.5,550.6 Q 1186,550.6 1184.5,549 Z" fill="#1717e2" stroke="#000" stroke-width="0.9" stroke-linejoin="round" stroke-linecap="round" />
<polygon points="1169.0,526.5 1196.0,523.0 1201.0,528.5 1172.5,532.5" fill="#07078e" stroke="#000" stroke-width="0.5" stroke-linejoin="round" />
<polygon points="1173.0,534.0 1193.5,531.0 1195.0,534.0 1175.5,537.0" fill="#07078e" stroke="#000" stroke-width="0.4" stroke-linejoin="round" />
<ellipse cx="1176.5" cy="529.2" rx="3.0" ry="1.4" fill="#2a2af2" stroke="#000" stroke-width="0.3" />
<ellipse cx="1193.5" cy="531.5" rx="2.4" ry="1.2" fill="#2a2af2" stroke="#000" stroke-width="0.3" />
<ellipse cx="1191.0" cy="535.8" rx="2.2" ry="1.2" fill="#07078e" stroke="#000" stroke-width="0.5" />
<ellipse cx="1187.0" cy="542.3" rx="2.4" ry="1.3" fill="#07078e" stroke="#000" stroke-width="0.6" />
<ellipse cx="1187.3" cy="542.0" rx="1.2" ry="0.6" fill="#2a2af2" stroke="#000" stroke-width="0" />
<ellipse cx="1196.5" cy="562.5" rx="6.0" ry="5.0" fill="#1717e2" stroke="#000" stroke-width="1.1" transform="rotate(-25 1196.5 562.5)" />
<ellipse cx="1197.0" cy="562.0" rx="4.4" ry="3.6" fill="#2a2af2" stroke="#000" stroke-width="0" transform="rotate(-25 1197.0 562.0)" />
<polygon points="1213.8,521.3 1236.3,541.5 1235.0,560.5 1220.0,551.0 1217.5,546.3" fill="#1111cc" stroke="#000" stroke-width="0.9" stroke-linejoin="round" />
<polygon points="1236.3,541.5 1266.0,537.5 1265.0,555.0 1262.0,562.0 1235.0,560.5" fill="#2020ea" stroke="#000" stroke-width="0.9" stroke-linejoin="round" />
<polygon points="1236.3,541.5 1266.0,537.5 1265.5,544.0 1236.0,548.0" fill="#3c3cfa" stroke="none" stroke-width="0" stroke-linejoin="round" />
<path d="M 1235.5,556 L 1264.5,551.8" fill="none" stroke="#000" stroke-width="0.9" stroke-linejoin="round" stroke-linecap="round" />
<path d="M 1213.8,521.3 Q 1214.5,519.5 1218,518.8 L 1239,514.2 Q 1242,513.8 1244,515.8 L 1265.5,535.5 Q 1266.8,537.3 1265,538 L 1238,541.8 Q 1235.5,541.8 1234,540.5 Z" fill="#1717e2" stroke="#000" stroke-width="0.9" stroke-linejoin="round" stroke-linecap="round" />
<path d="M 1236.5,539.5 L 1265.6,535.8 Q 1266.6,537.2 1265,538 L 1238,541.8 Q 1235.5,541.6 1234.4,540.6 Z" fill="#4c4cff" stroke="none" stroke-width="0" stroke-linejoin="round" stroke-linecap="round" />
<ellipse cx="1240.0" cy="526.5" rx="9.0" ry="5.4" fill="#07078e" stroke="#000" stroke-width="0.9" />
<ellipse cx="1240.0" cy="525.0" rx="9.0" ry="5.0" fill="#1717e2" stroke="#000" stroke-width="0.8" />
<ellipse cx="1240.5" cy="523.5" rx="4.2" ry="3.2" fill="#0c0cb8" stroke="#000" stroke-width="0.9" />
<ellipse cx="1241.0" cy="523.0" rx="1.8" ry="1.6" fill="#2a2af2" stroke="#000" stroke-width="0.5" />
<path d="M 1219,556 l 5,8 M 1222,552 l 6,9 l -2,10 M 1218,566 l 8,-3" fill="none" stroke="#000" stroke-width="0.9" stroke-linejoin="round" stroke-linecap="round" />
<line x1="1152.6" y1="484.0" x2="1151.9" y2="490.0" stroke="#fcfcfc" stroke-width="4.4" stroke-linecap="round" stroke-linecap="butt"/>
<line x1="1153.8" y1="466.0" x2="1151.6" y2="494.0" stroke="#000" stroke-width="2" stroke-linecap="round" stroke-linecap="butt"/>
<line x1="1177.7" y1="606.0" x2="1175.2" y2="619.0" stroke="#fcfcfc" stroke-width="3.4" stroke-linecap="round" />
<line x1="1137.8" y1="614.0" x2="1136.0" y2="626.0" stroke="#000" stroke-width="2.2" stroke-linecap="round" stroke-linecap="butt"/>
<line x1="1134.8" y1="635.0" x2="1127.9" y2="688.0" stroke="#000" stroke-width="2.2" stroke-linecap="round" stroke-linecap="butt"/>
<line x1="1127.2" y1="694.0" x2="1125.8" y2="710.0" stroke="#000" stroke-width="2.2" stroke-linecap="round" stroke-linecap="butt"/>
<line x1="1124.8" y1="721.0" x2="1123.4" y2="738.0" stroke="#000" stroke-width="2.2" stroke-linecap="round" stroke-linecap="butt"/>
<polygon points="1079.0,740.0 1081.0,738.0 1104.0,770.0 1101.5,790.0 1092.0,778.0 1079.0,762.0" fill="#8c8ca4" stroke="#000" stroke-width="0.9" stroke-linejoin="round" />
<polygon points="1087.0,768.0 1095.0,766.5 1101.5,777.0 1101.5,790.0 1095.0,783.0" fill="#5c5c70" stroke="#000" stroke-width="0.7" stroke-linejoin="round" />
<polygon points="1101.5,790.0 1103.9,770.0 1125.8,800.0 1123.8,824.0 1101.0,796.0" fill="url(#b32l)" stroke="#000" stroke-width="1.1" stroke-linejoin="round" />
<polygon points="1080.9,738.0 1152.8,724.0 1176.8,756.5 1103.9,770.3" fill="#c2c2dc" stroke="#000" stroke-width="0.9" stroke-linejoin="round" />
<polygon points="1103.9,770.3 1176.8,756.5 1199.7,785.5 1125.8,800.0" fill="#c2c2dc" stroke="#000" stroke-width="0.9" stroke-linejoin="round" />
<polygon points="1125.8,800.0 1199.7,785.5 1198.8,792.0 1123.8,824.0" fill="#aeaec8" stroke="#000" stroke-width="0.9" stroke-linejoin="round" />
<polygon points="1125.8,800.0 1199.7,785.5 1199.2,789.5 1126.0,805.0" fill="#e6e6f8" stroke="none" stroke-width="0" stroke-linejoin="round" />
<polygon points="1123.8,824.0 1125.8,800.0 1127.6,801.5 1126.3,822.6" fill="#e4e4f6" stroke="#000" stroke-width="0.3" stroke-linejoin="round" />
<path d="M 1080.9,738 L 1152.8,724 L 1199.7,785.5" fill="none" stroke="#000" stroke-width="1.6" stroke-linejoin="round" stroke-linecap="round" />
<path d="M 1103.9,770.3 L 1170,757.8" fill="none" stroke="#000" stroke-width="1.2" stroke-linejoin="round" stroke-linecap="round" />
<polygon points="1166.0,758.8 1175.5,756.0 1172.0,759.5" fill="#222" stroke="#000" stroke-width="0.5" stroke-linejoin="round" />
<line x1="1109.0" y1="737.6" x2="1126.0" y2="734.4" stroke="#15151c" stroke-width="4.4" stroke-linecap="round" /><line x1="1109.0" y1="737.6" x2="1126.0" y2="734.4" stroke="#a2a2ba" stroke-width="1.9" stroke-linecap="round" />
<line x1="1134.0" y1="732.6" x2="1151.0" y2="729.4" stroke="#15151c" stroke-width="4.4" stroke-linecap="round" /><line x1="1134.0" y1="732.6" x2="1151.0" y2="729.4" stroke="#a2a2ba" stroke-width="1.9" stroke-linecap="round" />
<line x1="1113.0" y1="744.6" x2="1130.0" y2="741.4" stroke="#15151c" stroke-width="4.4" stroke-linecap="round" /><line x1="1113.0" y1="744.6" x2="1130.0" y2="741.4" stroke="#a2a2ba" stroke-width="1.9" stroke-linecap="round" />
<line x1="1138.0" y1="739.8" x2="1156.0" y2="736.4" stroke="#15151c" stroke-width="4.4" stroke-linecap="round" /><line x1="1138.0" y1="739.8" x2="1156.0" y2="736.4" stroke="#a2a2ba" stroke-width="1.9" stroke-linecap="round" />
<line x1="1133.0" y1="771.8" x2="1150.0" y2="768.6" stroke="#15151c" stroke-width="4.4" stroke-linecap="round" /><line x1="1133.0" y1="771.8" x2="1150.0" y2="768.6" stroke="#a2a2ba" stroke-width="1.9" stroke-linecap="round" />
<line x1="1158.0" y1="767.0" x2="1176.0" y2="763.6" stroke="#15151c" stroke-width="4.4" stroke-linecap="round" /><line x1="1158.0" y1="767.0" x2="1176.0" y2="763.6" stroke="#a2a2ba" stroke-width="1.9" stroke-linecap="round" />
<line x1="1145.0" y1="789.0" x2="1163.0" y2="785.6" stroke="#15151c" stroke-width="4.4" stroke-linecap="round" /><line x1="1145.0" y1="789.0" x2="1163.0" y2="785.6" stroke="#a2a2ba" stroke-width="1.9" stroke-linecap="round" />
<line x1="1171.0" y1="783.4" x2="1189.0" y2="780.0" stroke="#15151c" stroke-width="4.4" stroke-linecap="round" /><line x1="1171.0" y1="783.4" x2="1189.0" y2="780.0" stroke="#a2a2ba" stroke-width="1.9" stroke-linecap="round" />
<line x1="1078.5" y1="751.8" x2="1123.0" y2="758.0" stroke="#000" stroke-width="1.3" stroke-linecap="round" />
<ellipse cx="1096.0" cy="764.5" rx="1.8" ry="2.8" fill="#5c5c70" stroke="#000" stroke-width="0.7" transform="rotate(-15 1096.0 764.5)" />
<ellipse cx="1094.0" cy="780.0" rx="1.8" ry="2.8" fill="#5c5c70" stroke="#000" stroke-width="0.7" transform="rotate(-15 1094.0 780.0)" />
<ellipse cx="1110.5" cy="786.0" rx="1.8" ry="2.8" fill="#5c5c70" stroke="#000" stroke-width="0.7" transform="rotate(-15 1110.5 786.0)" />
<ellipse cx="1109.0" cy="803.0" rx="1.8" ry="2.8" fill="#5c5c70" stroke="#000" stroke-width="0.7" transform="rotate(-15 1109.0 803.0)" />
<line x1="1124.8" y1="721.0" x2="1123.4" y2="738.0" stroke="#000" stroke-width="2.2" stroke-linecap="round" stroke-linecap="butt"/>
<line x1="1114.6" y1="813.0" x2="1108.7" y2="861.0" stroke="#000" stroke-width="2.4" stroke-linecap="round" stroke-linecap="butt"/>
<line x1="1107.7" y1="871.0" x2="1105.8" y2="882.0" stroke="#000" stroke-width="2.2" stroke-linecap="round" stroke-linecap="butt"/>
<line x1="1104.8" y1="891.0" x2="1102.5" y2="914.0" stroke="#000" stroke-width="2.2" stroke-linecap="round" stroke-linecap="butt"/>
<ellipse cx="1102.4" cy="915.0" rx="2.5" ry="2.6" fill="#111" stroke="#000" stroke-width="0" />
<ellipse cx="1124.7" cy="910.0" rx="2.4" ry="2.6" fill="#111" stroke="#000" stroke-width="0" />
<ellipse cx="1125.1" cy="950.3" rx="2.4" ry="2.6" fill="#111" stroke="#000" stroke-width="0" />
<ellipse cx="1109.8" cy="850.8" rx="5.6" ry="3.9" fill="#9c9cb0" stroke="#333" stroke-width="0.9" /><ellipse cx="1109.8" cy="850.8" rx="1.5" ry="1.1" fill="#333" stroke="#000" stroke-width="0" />
<ellipse cx="1132.8" cy="845.8" rx="5.6" ry="3.9" fill="#9c9cb0" stroke="#333" stroke-width="0.9" /><ellipse cx="1132.8" cy="845.8" rx="1.5" ry="1.1" fill="#333" stroke="#000" stroke-width="0" />
<ellipse cx="1133.4" cy="885.4" rx="5.6" ry="3.9" fill="#9c9cb0" stroke="#333" stroke-width="0.9" /><ellipse cx="1133.4" cy="885.4" rx="1.5" ry="1.1" fill="#333" stroke="#000" stroke-width="0" />
<ellipse cx="1155.8" cy="880.4" rx="5.6" ry="3.9" fill="#9c9cb0" stroke="#333" stroke-width="0.9" /><ellipse cx="1155.8" cy="880.4" rx="1.5" ry="1.1" fill="#333" stroke="#000" stroke-width="0" />
<line x1="1109.3" y1="845.0" x2="1108.7" y2="861.0" stroke="#000" stroke-width="2.4" stroke-linecap="round" stroke-linecap="butt"/>
<line x1="1251.7" y1="735.0" x2="1199.7" y2="745.2" stroke="#000" stroke-width="2.3" stroke-linecap="round" />
<ellipse cx="1252.0" cy="735.0" rx="3.6" ry="3.7" fill="#111" stroke="#000" stroke-width="0" />
<ellipse cx="1252.2" cy="735.0" rx="1.0" ry="1.1" fill="#666" stroke="#000" stroke-width="0" />
<ellipse cx="1211.0" cy="742.8" rx="2.5" ry="4.0" fill="#111" stroke="#000" stroke-width="0" transform="rotate(-10 1211.0 742.8)" />
<line x1="1188.6" y1="747.2" x2="1178.0" y2="749.4" stroke="#000" stroke-width="2.3" stroke-linecap="round" />
<line x1="1087.9" y1="768.0" x2="1034.0" y2="777.6" stroke="#000" stroke-width="2.4" stroke-linecap="round" stroke-linecap="butt"/>
<polygon points="1088.0,765.0 1096.0,763.5 1096.0,770.0 1088.0,771.6" fill="#fcfcfc" stroke="none" stroke-width="0" stroke-linejoin="round" />
<ellipse cx="1209.3" cy="757.9" rx="2.4" ry="3.8" fill="#111" stroke="#000" stroke-width="0" transform="rotate(-15 1209.3 757.9)" />
<ellipse cx="1226.3" cy="761.5" rx="2.4" ry="3.8" fill="#111" stroke="#000" stroke-width="0" transform="rotate(-15 1226.3 761.5)" />
<ellipse cx="1249.7" cy="750.0" rx="3.6" ry="3.7" fill="#111" stroke="#000" stroke-width="0" />
<ellipse cx="1249.7" cy="750.0" rx="0.9" ry="1.2" fill="#555" stroke="#000" stroke-width="0" />
<ellipse cx="1267.3" cy="753.6" rx="3.6" ry="3.7" fill="#111" stroke="#000" stroke-width="0" />
<ellipse cx="1267.3" cy="753.6" rx="0.9" ry="1.2" fill="#555" stroke="#000" stroke-width="0" />
<path d="M 1225.2,778.6 Q 1220.6,775.4 1223.4,773.2 Q 1225.6,773.6 1226.4,776.6" fill="#111" stroke="#000" stroke-width="1.2" stroke-linejoin="round" stroke-linecap="round" />
<path d="M 1264,771.6 Q 1260.4,768.4 1263.4,765.8 Q 1266.4,764.6 1268.2,767.2" fill="none" stroke="#000" stroke-width="1.6" stroke-linejoin="round" stroke-linecap="round" />
<path d="M 1264.6,769.6 Q 1263,768 1264.6,766.8" fill="none" stroke="#888" stroke-width="0.6" stroke-linejoin="round" stroke-linecap="round" />
<path d="M 1145.8,946.4 L 1145.8,942.8 Q 1148,942 1150.5,943.4" fill="none" stroke="#000" stroke-width="1.1" stroke-linejoin="round" stroke-linecap="round" />
<line x1="1145.8" y1="944.6" x2="1183.0" y2="944.2" stroke="#888" stroke-width="0.5" stroke-linecap="round" />
<polygon points="1053.8,768.1 1055.4,767.4 1071.6,792.2 1069.2,815.0 1067.6,813.6 1051.0,789.4" fill="#0f7a5c" stroke="#000" stroke-width="0.9" stroke-linejoin="round" />
<polygon points="1053.8,768.1 1055.4,767.4 1071.6,792.2 1070.0,792.6" fill="#1aa07c" stroke="#000" stroke-width="0.5" stroke-linejoin="round" />
<polygon points="1070.0,792.6 1071.6,792.2 1069.2,815.0 1067.6,813.6" fill="#0a5a44" stroke="#000" stroke-width="0.5" stroke-linejoin="round" />
<ellipse cx="1054.8" cy="774.5" rx="1.0" ry="1.4" fill="#033" stroke="#000" stroke-width="0" />
<ellipse cx="1053.4" cy="788.0" rx="1.0" ry="1.4" fill="#033" stroke="#000" stroke-width="0" />
<ellipse cx="1068.0" cy="795.4" rx="1.0" ry="1.4" fill="#033" stroke="#000" stroke-width="0" />
<ellipse cx="1066.6" cy="808.6" rx="1.0" ry="1.4" fill="#033" stroke="#000" stroke-width="0" />
<line x1="1007.0" y1="783.4" x2="1028.0" y2="779.6" stroke="#222" stroke-width="4" stroke-linecap="round" stroke-linecap="butt"/>
<line x1="1007.5" y1="783.4" x2="1027.4" y2="779.6" stroke="#fff" stroke-width="2.5" stroke-linecap="round" stroke-linecap="butt"/>
<line x1="1015.0" y1="782.2" x2="1025.0" y2="779.9" stroke="#222" stroke-width="3.4" stroke-linecap="round" stroke-linecap="butt"/>
<ellipse cx="1005.0" cy="783.7" rx="2.2" ry="3.5" fill="#222" stroke="#000" stroke-width="0" transform="rotate(-8 1005.0 783.7)" />
<line x1="1006.0" y1="798.8" x2="1027.0" y2="794.6" stroke="#222" stroke-width="4" stroke-linecap="round" stroke-linecap="butt"/>
<line x1="1006.5" y1="798.8" x2="1026.4" y2="794.6" stroke="#fff" stroke-width="2.5" stroke-linecap="round" stroke-linecap="butt"/>
<ellipse cx="1004.0" cy="799.1" rx="2.2" ry="3.5" fill="#222" stroke="#000" stroke-width="0" transform="rotate(-8 1004.0 799.1)" />
<line x1="1019.6" y1="803.6" x2="1041.0" y2="799.0" stroke="#222" stroke-width="4" stroke-linecap="round" stroke-linecap="butt"/>
<line x1="1020.1" y1="803.6" x2="1040.4" y2="799.0" stroke="#fff" stroke-width="2.5" stroke-linecap="round" stroke-linecap="butt"/>
<ellipse cx="1017.6" cy="803.9" rx="2.2" ry="3.5" fill="#222" stroke="#000" stroke-width="0" transform="rotate(-8 1017.6 803.9)" />
<line x1="1018.4" y1="819.0" x2="1039.6" y2="814.6" stroke="#222" stroke-width="4" stroke-linecap="round" stroke-linecap="butt"/>
<line x1="1018.9" y1="819.0" x2="1039.0" y2="814.6" stroke="#fff" stroke-width="2.5" stroke-linecap="round" stroke-linecap="butt"/>
<ellipse cx="1016.4" cy="819.3" rx="2.2" ry="3.5" fill="#222" stroke="#000" stroke-width="0" transform="rotate(-8 1016.4 819.3)" />
<polygon points="1328.0,352.0 1333.5,353.0 1308.0,527.0 1302.5,525.2" fill="#0e9584" stroke="#000" stroke-width="0.9" stroke-linejoin="round" />
<path d="M 1333.5,353.5 L 1429,434 L 1425.5,440 L 1410.5,513.5 Q 1396,507.5 1381.2,512 L 1380.3,515.4 L 1306,528 L 1305,524 Z" fill="url(#cvL)" stroke="#000" stroke-width="1" stroke-linejoin="round" stroke-linecap="round" />
<path d="M 1425.5,438.8 L 1527.6,443.8 Q 1526.5,452 1524.2,460 L 1496,582 Q 1493,594.5 1482.4,599 L 1392.9,617.4 L 1389.4,612.6 Z" fill="url(#cvF)" stroke="#000" stroke-width="1" stroke-linejoin="round" stroke-linecap="round" />
<polygon points="1425.5,440.0 1429.5,441.0 1394.0,612.0 1389.4,612.6" fill="#0e9a88" stroke="#000" stroke-width="0.5" stroke-linejoin="round" />
<path d="M 1331.8,349.7 Q 1380,355 1410.5,360.1 Q 1432,363.5 1448.9,371.8 Q 1462,379 1480,394 L 1524.2,428.7 Q 1530.5,433.5 1529.6,438.8 Q 1529,442.5 1527.6,443.3 L 1429.7,434.6 L 1335.2,353.6 Z" fill="#0e8a7a" stroke="#000" stroke-width="1.2" stroke-linejoin="round" stroke-linecap="round" />
<path d="M 1424.5,437 Q 1423,441.5 1427,443.5 L 1503,449.5 Q 1505.5,446 1505.8,442.5 L 1430,434.8 Z" fill="#14b8a6" stroke="#000" stroke-width="0.8" stroke-linejoin="round" stroke-linecap="round" />
<path d="M 1508,443 Q 1508,449 1513,451.6 L 1524,452.6 L 1527,443.6 Z" fill="#10a594" stroke="#000" stroke-width="0.8" stroke-linejoin="round" stroke-linecap="round" />
<ellipse cx="1438.6" cy="440.6" rx="2.2" ry="2.3" fill="#062e2a" stroke="#000" stroke-width="0.8" />
<ellipse cx="1494.3" cy="446.8" rx="2.2" ry="2.3" fill="#062e2a" stroke="#000" stroke-width="0.8" />
<ellipse cx="1427.4" cy="440.2" rx="1.4" ry="1.5" fill="#0a5a50" stroke="#000" stroke-width="0.8" />
<ellipse cx="1327.0" cy="354.4" rx="3.0" ry="3.4" fill="#14c4b0" stroke="#000" stroke-width="0.9" />
<ellipse cx="1326.8" cy="354.6" rx="0.9" ry="1.0" fill="#fcfcfc" stroke="#000" stroke-width="0.5" />
<ellipse cx="1355.8" cy="359.8" rx="3.6" ry="1.6" fill="#11a090" stroke="#000" stroke-width="0.8" transform="rotate(12 1355.8 359.8)" />
<line x1="1343.5" y1="364.8" x2="1346.0" y2="365.3" stroke="#000" stroke-width="3.4000000000000004" stroke-linecap="round" /><line x1="1343.5" y1="364.8" x2="1346.0" y2="365.3" stroke="#fcfcfc" stroke-width="2.2" stroke-linecap="round" />
<line x1="1341.8" y1="373.2" x2="1354.0" y2="374.0" stroke="#000" stroke-width="3.4000000000000004" stroke-linecap="round" /><line x1="1341.8" y1="373.2" x2="1354.0" y2="374.0" stroke="#fcfcfc" stroke-width="2.2" stroke-linecap="round" />
<line x1="1340.5" y1="381.2" x2="1357.5" y2="381.6" stroke="#000" stroke-width="3.4000000000000004" stroke-linecap="round" /><line x1="1340.5" y1="381.2" x2="1357.5" y2="381.6" stroke="#fcfcfc" stroke-width="2.2" stroke-linecap="round" />
<line x1="1339.3" y1="389.2" x2="1356.6" y2="388.6" stroke="#000" stroke-width="3.4000000000000004" stroke-linecap="round" /><line x1="1339.3" y1="389.2" x2="1356.6" y2="388.6" stroke="#fcfcfc" stroke-width="2.2" stroke-linecap="round" />
<line x1="1364.5" y1="388.8" x2="1371.0" y2="388.3" stroke="#000" stroke-width="3.4000000000000004" stroke-linecap="round" /><line x1="1364.5" y1="388.8" x2="1371.0" y2="388.3" stroke="#fcfcfc" stroke-width="2.2" stroke-linecap="round" />
<line x1="1365.5" y1="382.0" x2="1367.0" y2="382.0" stroke="#000" stroke-width="3.4000000000000004" stroke-linecap="round" /><line x1="1365.5" y1="382.0" x2="1367.0" y2="382.0" stroke="#fcfcfc" stroke-width="2.2" stroke-linecap="round" />
<path d="M 1335.2,353.6 L 1429.7,434.6" fill="none" stroke="#000" stroke-width="1.2" stroke-linejoin="round" stroke-linecap="round" />
<polygon points="1335.2,353.6 1342.0,354.4 1383.0,390.0 1376.0,390.0" fill="#0e8a7a" stroke="none" stroke-width="0" stroke-linejoin="round" />
<path d="M 1335.2,353.6 L 1429.7,434.6" fill="none" stroke="#000" stroke-width="1.2" stroke-linejoin="round" stroke-linecap="round" />
<ellipse cx="1326.8" cy="469.6" rx="9.2" ry="15.2" fill="#fcfcfc" stroke="#000" stroke-width="0.9" transform="rotate(14 1326.8 469.6)" />
<ellipse cx="1342.0" cy="462.6" rx="0.9" ry="1.0" fill="#033" stroke="#000" stroke-width="0" />
<ellipse cx="1315.0" cy="516.4" rx="0.9" ry="1.0" fill="#033" stroke="#000" stroke-width="0" />
<ellipse cx="1320.6" cy="515.4" rx="0.9" ry="1.0" fill="#033" stroke="#000" stroke-width="0" />
<ellipse cx="1371.0" cy="515.4" rx="0.9" ry="1.0" fill="#033" stroke="#000" stroke-width="0" />
<ellipse cx="1379.5" cy="514.0" rx="0.9" ry="1.0" fill="#033" stroke="#000" stroke-width="0" />
<ellipse cx="1309.3" cy="496.7" rx="1.0" ry="1.5" fill="#0a6a5e" stroke="#000" stroke-width="0.6" />
<ellipse cx="1331.0" cy="374.5" rx="0.8" ry="1.5" fill="#0a6a5e" stroke="#000" stroke-width="0.5" />
<line x1="1443.0" y1="449.6" x2="1462.0" y2="451.2" stroke="#021a18" stroke-width="4.8" stroke-linecap="round" /><line x1="1443.0" y1="449.6" x2="1462.0" y2="451.2" stroke="#12a896" stroke-width="2.5" stroke-linecap="round" />
<line x1="1469.0" y1="452.4" x2="1489.0" y2="453.4" stroke="#021a18" stroke-width="4.8" stroke-linecap="round" /><line x1="1469.0" y1="452.4" x2="1489.0" y2="453.4" stroke="#0b7f72" stroke-width="2.5" stroke-linecap="round" />
<line x1="1495.0" y1="454.2" x2="1512.0" y2="454.4" stroke="#021a18" stroke-width="4.8" stroke-linecap="round" /><line x1="1495.0" y1="454.2" x2="1512.0" y2="454.4" stroke="#12a896" stroke-width="2.5" stroke-linecap="round" />
<line x1="1441.4" y1="458.4" x2="1460.4" y2="459.6" stroke="#021a18" stroke-width="4.8" stroke-linecap="round" /><line x1="1441.4" y1="458.4" x2="1460.4" y2="459.6" stroke="#12a896" stroke-width="2.5" stroke-linecap="round" />
<line x1="1467.4" y1="460.8" x2="1487.4" y2="461.8" stroke="#021a18" stroke-width="4.8" stroke-linecap="round" /><line x1="1467.4" y1="460.8" x2="1487.4" y2="461.8" stroke="#0b7f72" stroke-width="2.5" stroke-linecap="round" />
<line x1="1493.4" y1="462.6" x2="1510.4" y2="462.8" stroke="#021a18" stroke-width="4.8" stroke-linecap="round" /><line x1="1493.4" y1="462.6" x2="1510.4" y2="462.8" stroke="#12a896" stroke-width="2.5" stroke-linecap="round" />
<line x1="1439.8" y1="467.0" x2="1458.8" y2="467.6" stroke="#021a18" stroke-width="4.8" stroke-linecap="round" /><line x1="1439.8" y1="467.0" x2="1458.8" y2="467.6" stroke="#12a896" stroke-width="2.5" stroke-linecap="round" />
<line x1="1465.8" y1="468.8" x2="1485.8" y2="469.8" stroke="#021a18" stroke-width="4.8" stroke-linecap="round" /><line x1="1465.8" y1="468.8" x2="1485.8" y2="469.8" stroke="#0b7f72" stroke-width="2.5" stroke-linecap="round" />
<line x1="1491.8" y1="470.6" x2="1508.8" y2="470.8" stroke="#021a18" stroke-width="4.8" stroke-linecap="round" /><line x1="1491.8" y1="470.6" x2="1508.8" y2="470.8" stroke="#12a896" stroke-width="2.5" stroke-linecap="round" />
<line x1="1438.2" y1="475.6" x2="1457.2" y2="475.0" stroke="#021a18" stroke-width="4.8" stroke-linecap="round" /><line x1="1438.2" y1="475.6" x2="1457.2" y2="475.0" stroke="#12a896" stroke-width="2.5" stroke-linecap="round" />
<line x1="1464.2" y1="476.2" x2="1484.2" y2="477.2" stroke="#021a18" stroke-width="4.8" stroke-linecap="round" /><line x1="1464.2" y1="476.2" x2="1484.2" y2="477.2" stroke="#0b7f72" stroke-width="2.5" stroke-linecap="round" />
<line x1="1490.2" y1="478.0" x2="1507.2" y2="478.2" stroke="#021a18" stroke-width="4.8" stroke-linecap="round" /><line x1="1490.2" y1="478.0" x2="1507.2" y2="478.2" stroke="#12a896" stroke-width="2.5" stroke-linecap="round" />
<polygon points="1471.0,450.8 1480.0,451.6 1487.0,454.5 1476.0,454.4" fill="#fcfcfc" stroke="none" stroke-width="0" stroke-linejoin="round" />
<polygon points="1473.0,458.6 1480.0,459.0 1480.6,461.4 1474.0,461.0" fill="#fcfcfc" stroke="none" stroke-width="0" stroke-linejoin="round" />
<polygon points="1479.0,466.6 1485.0,467.0 1483.0,469.6 1479.0,469.2" fill="#fcfcfc" stroke="none" stroke-width="0" stroke-linejoin="round" />
<line x1="1514.5" y1="449.0" x2="1523.5" y2="446.4" stroke="#021a18" stroke-width="2.6" stroke-linecap="round" />
<line x1="1514.5" y1="453.6" x2="1523.0" y2="451.0" stroke="#021a18" stroke-width="2.6" stroke-linecap="round" />
<line x1="1514.5" y1="458.2" x2="1522.5" y2="455.6" stroke="#021a18" stroke-width="2.6" stroke-linecap="round" />
<line x1="1514.5" y1="462.8" x2="1522.0" y2="460.2" stroke="#021a18" stroke-width="2.6" stroke-linecap="round" />
<line x1="1514.5" y1="467.4" x2="1521.5" y2="464.8" stroke="#021a18" stroke-width="2.6" stroke-linecap="round" />
<line x1="1514.5" y1="472.0" x2="1521.0" y2="469.4" stroke="#021a18" stroke-width="2.6" stroke-linecap="round" />
<path d="M 1511,445 q 0,5 5,6 l 8,-4" fill="none" stroke="#033" stroke-width="0.7" stroke-linejoin="round" stroke-linecap="round" />
<ellipse cx="1455.0" cy="462.6" rx="2.4" ry="2.4" fill="#111" stroke="#000" stroke-width="0" />
<ellipse cx="1463.0" cy="468.8" rx="2.2" ry="2.2" fill="#111" stroke="#000" stroke-width="0" />
<line x1="1467.5" y1="473.0" x2="1474.0" y2="479.5" stroke="#111" stroke-width="3.6" stroke-linecap="round" />
<line x1="1468.5" y1="474.0" x2="1473.0" y2="478.5" stroke="#eee" stroke-width="1.6" stroke-linecap="round" />
<ellipse cx="1476.6" cy="480.4" rx="2.2" ry="2.4" fill="#111" stroke="#000" stroke-width="0" />
<line x1="1481.0" y1="484.5" x2="1489.0" y2="491.0" stroke="#222" stroke-width="2.8" stroke-linecap="round" />
<line x1="1482.0" y1="485.3" x2="1487.0" y2="489.4" stroke="#ccc" stroke-width="1" stroke-linecap="round" />
<ellipse cx="1489.8" cy="491.6" rx="2.4" ry="2.4" fill="#111" stroke="#000" stroke-width="0" />
<ellipse cx="1424.8" cy="457.4" rx="1.4" ry="2.0" fill="#0e9a88" stroke="#000" stroke-width="0.8" />
<g transform="rotate(-40 1436.4 532.8)"><rect x="1413" y="518.2" width="46.8" height="29.2" rx="14.6" fill="#fcfcfc" stroke="#000" stroke-width="1"/><path d="M 1435,518.2 L 1445.2,518.2 A 14.6,14.6 0 0 1 1445.2,547.4 L 1437,547.4 Z" fill="#0e8a7a" stroke="#000" stroke-width="0.8"/><path d="M 1431.5,518.4 L 1435,518.4 L 1437,547.2 L 1433.5,547.2 Z" fill="#14b8a6" stroke="#000" stroke-width="0.5"/></g>
<ellipse cx="1431.6" cy="531.0" rx="1.0" ry="1.0" fill="#033" stroke="#000" stroke-width="0" />
<ellipse cx="1454.6" cy="527.0" rx="1.0" ry="1.6" fill="#bde" stroke="#000" stroke-width="0.4" />
<g transform="rotate(-52 1473 571.8)"><ellipse cx="1473" cy="571.8" rx="14.6" ry="9.4" fill="#fcfcfc" stroke="#000" stroke-width="1"/><path d="M 1473.5,562.4 A 14.6,9.4 0 0 1 1473.5,581.2 Z" fill="#0e8a7a" stroke="#000" stroke-width="0.7"/><path d="M 1471,562.5 L 1473.5,562.4 L 1473.5,581.2 L 1471,581.1 Z" fill="#14b8a6" stroke="#000" stroke-width="0.4"/></g>
<ellipse cx="1477.6" cy="564.5" rx="1.0" ry="1.0" fill="#033" stroke="#000" stroke-width="0" />
<ellipse cx="1474.6" cy="570.0" rx="1.0" ry="1.0" fill="#033" stroke="#000" stroke-width="0" />
<ellipse cx="1407.3" cy="608.2" rx="0.9" ry="1.0" fill="#033" stroke="#000" stroke-width="0" />
<ellipse cx="1413.3" cy="607.2" rx="0.9" ry="1.0" fill="#033" stroke="#000" stroke-width="0" />
<ellipse cx="1397.8" cy="583.6" rx="1.0" ry="1.6" fill="#bde" stroke="#000" stroke-width="0.6" />
<line x1="1451.7" y1="594.0" x2="1451.7" y2="606.0" stroke="#fcfcfc" stroke-width="3.6" stroke-linecap="round" />
<path d="M 1384.6,214.5 L 1388.5,211.6 L 1394.2,214.6 L 1393.4,216.2 L 1388.8,213.8 L 1386.6,215.6 L 1394,219.6" fill="none" stroke="#000" stroke-width="1.1" stroke-linejoin="round" stroke-linecap="round" />
<path d="M 1389,213.6 L 1393,215.6" fill="none" stroke="#c66" stroke-width="0.8" stroke-linejoin="round" stroke-linecap="round" />
<ellipse cx="1381.4" cy="238.0" rx="5.4" ry="4.4" fill="#1c1c24" stroke="#000" stroke-width="0.8" />
<ellipse cx="1381.4" cy="236.6" rx="5.4" ry="3.4" fill="#44444e" stroke="#000" stroke-width="0.6" />
<ellipse cx="1382.0" cy="234.6" rx="2.6" ry="1.8" fill="#2a2a32" stroke="#000" stroke-width="0.6" />
<polygon points="1376.0,239.0 1381.0,243.0 1380.0,249.6 1377.2,249.0 1377.6,245.0 1375.4,243.8 1374.0,248.6 1372.8,248.2 1374.2,242.6" fill="#1c1c24" stroke="#000" stroke-width="0.6" stroke-linejoin="round" />
<polygon points="1371.4,259.6 1376.6,260.2 1375.6,264.0 1372.4,267.2 1370.4,264.0" fill="#1c1c24" stroke="#000" stroke-width="0.6" stroke-linejoin="round" />
<ellipse cx="1373.6" cy="263.0" rx="1.0" ry="1.6" fill="#ddd" stroke="#000" stroke-width="0" />
<path d="M 1372.6,266 Q 1369.5,276 1365.6,285 Q 1360,296 1357.6,303 Q 1355.6,310 1355.5,320.6" fill="none" stroke="#1a1a1a" stroke-width="3" stroke-linejoin="round" stroke-linecap="round" />
<path d="M 1372,268 Q 1369,277 1365.2,286 Q 1359.6,297 1357.4,304 Q 1355.6,311 1355.6,319.6" fill="none" stroke="#888" stroke-width="0.8" stroke-linejoin="round" stroke-linecap="round" />
<ellipse cx="1258.4" cy="298.4" rx="2.2" ry="2.2" fill="#111" stroke="#000" stroke-width="0" />
<path d="M 1259,299 L 1266,304" fill="none" stroke="#222" stroke-width="2" stroke-linejoin="round" stroke-linecap="round" />
<ellipse cx="1269.0" cy="306.6" rx="2.2" ry="2.2" fill="#111" stroke="#000" stroke-width="0" />
<ellipse cx="1275.6" cy="311.8" rx="3.4" ry="2.4" fill="#ccc" stroke="#111" stroke-width="1.1" transform="rotate(40 1275.6 311.8)" />
<ellipse cx="1281.4" cy="316.8" rx="2.0" ry="2.0" fill="#111" stroke="#000" stroke-width="0" />
<ellipse cx="1285.6" cy="320.4" rx="2.5" ry="2.5" fill="#111" stroke="#000" stroke-width="0" />
<g transform="rotate(22 241 193)"><rect x="232.6" y="187.4" width="15.6" height="11" rx="2.5" fill="url(#cy1)" stroke="#000" stroke-width="0.8"/></g>
<ellipse cx="246.8" cy="196.0" rx="3.1" ry="4.7" fill="#f4f4fa" stroke="#000" stroke-width="1.3" transform="rotate(22 246.8 196.0)" />
<ellipse cx="264.6" cy="205.4" rx="10.6" ry="15.6" fill="#2a2a34" stroke="#000" stroke-width="1" transform="rotate(25 264.6 205.4)" />
<line x1="257.5" y1="193.5" x2="253.8" y2="216.0" stroke="#8a8a9c" stroke-width="0.5" stroke-linecap="round" />
<line x1="258.9" y1="193.7" x2="255.0" y2="216.8" stroke="#8a8a9c" stroke-width="0.5" stroke-linecap="round" />
<line x1="260.4" y1="193.9" x2="256.2" y2="217.6" stroke="#8a8a9c" stroke-width="0.5" stroke-linecap="round" />
<line x1="261.8" y1="194.0" x2="257.5" y2="218.3" stroke="#8a8a9c" stroke-width="0.5" stroke-linecap="round" />
<line x1="263.3" y1="194.2" x2="258.7" y2="219.1" stroke="#8a8a9c" stroke-width="0.5" stroke-linecap="round" />
<line x1="264.7" y1="194.4" x2="259.9" y2="219.9" stroke="#8a8a9c" stroke-width="0.5" stroke-linecap="round" />
<line x1="266.2" y1="194.6" x2="261.1" y2="220.7" stroke="#8a8a9c" stroke-width="0.5" stroke-linecap="round" />
<line x1="267.6" y1="194.7" x2="262.4" y2="221.4" stroke="#8a8a9c" stroke-width="0.5" stroke-linecap="round" />
<line x1="269.1" y1="194.9" x2="263.6" y2="222.2" stroke="#8a8a9c" stroke-width="0.5" stroke-linecap="round" />
<line x1="270.5" y1="195.1" x2="264.8" y2="223.0" stroke="#8a8a9c" stroke-width="0.5" stroke-linecap="round" />
<ellipse cx="273.0" cy="210.4" rx="11.4" ry="15.4" fill="#4a4a5a" stroke="#000" stroke-width="1.2" transform="rotate(25 273.0 210.4)" />
<ellipse cx="273.0" cy="210.4" rx="9.2" ry="12.8" fill="#c2c2d6" stroke="#000" stroke-width="0.8" transform="rotate(25 273.0 210.4)" />
<ellipse cx="273.8" cy="210.8" rx="6.6" ry="9.6" fill="#5a5a6c" stroke="#000" stroke-width="0.9" transform="rotate(25 273.8 210.8)" />
<ellipse cx="274.4" cy="211.2" rx="4.6" ry="7.0" fill="#a2a2b8" stroke="#000" stroke-width="0.6" transform="rotate(25 274.4 211.2)" />
<ellipse cx="295.6" cy="221.8" rx="6.8" ry="11.0" fill="#c8c8dc" stroke="#000" stroke-width="1" transform="rotate(22 295.6 221.8)" />
<ellipse cx="299.6" cy="223.4" rx="6.8" ry="10.6" fill="#d4d4e6" stroke="#000" stroke-width="1" transform="rotate(22 299.6 223.4)" />
<ellipse cx="300.2" cy="223.8" rx="4.8" ry="7.6" fill="#5c5c70" stroke="#000" stroke-width="0.9" transform="rotate(22 300.2 223.8)" />
<ellipse cx="300.8" cy="224.2" rx="3.0" ry="5.0" fill="#e8e8f4" stroke="#000" stroke-width="0.8" transform="rotate(22 300.8 224.2)" />
<ellipse cx="319.8" cy="234.2" rx="6.8" ry="11.0" fill="none" stroke="#222" stroke-width="2.6" transform="rotate(22 319.8 234.2)" />
<ellipse cx="319.8" cy="234.2" rx="5.2" ry="9.4" fill="none" stroke="#777" stroke-width="0.5" transform="rotate(22 319.8 234.2)" />
<polygon points="311.3,237.6 315.3,236.1 315.8,239.6 311.8,241.2" fill="#fcfcfc" stroke="none" stroke-width="0" stroke-linejoin="round" />
<g transform="rotate(25.7 331.3 242.5)"><rect x="331" y="238.4" width="74" height="8.4" rx="3" fill="url(#rodb)" stroke="#222" stroke-width="0.8"/></g>
<ellipse cx="397.0" cy="275.2" rx="2.6" ry="4.0" fill="#8aa4d4" stroke="#000" stroke-width="0.8" transform="rotate(25 397.0 275.2)" />
<g transform="rotate(25 411 283)"><rect x="400" y="277.4" width="22" height="10.6" rx="2.5" fill="url(#cy1)" stroke="#000" stroke-width="0.8"/></g>
<ellipse cx="419.6" cy="287.6" rx="3.4" ry="5.4" fill="#f0f0f8" stroke="#000" stroke-width="1.4" transform="rotate(25 419.6 287.6)" />
<g transform="rotate(31 845 112)"><rect x="845" y="107.2" width="40.5" height="9.8" rx="2" fill="url(#cy2)" stroke="#222" stroke-width="0.8"/></g>
<ellipse cx="876.2" cy="134.4" rx="3.4" ry="4.6" fill="#b4b4c6" stroke="#000" stroke-width="0.6" transform="rotate(30 876.2 134.4)" />
<polygon points="831.6,106.5 840.0,100.8 848.8,104.5 850.4,113.5 842.5,121.0 833.2,117.4" fill="#7c7c8e" stroke="#000" stroke-width="1" stroke-linejoin="round" />
<polygon points="831.6,106.5 835.6,104.0 837.6,119.0 833.2,117.4" fill="#4a4a58" stroke="#000" stroke-width="0.6" stroke-linejoin="round" />
<ellipse cx="842.6" cy="111.2" rx="4.8" ry="5.6" fill="#3a3a48" stroke="#000" stroke-width="0.8" />
<ellipse cx="843.6" cy="112.0" rx="3.0" ry="3.6" fill="#8c8ca0" stroke="#000" stroke-width="0.5" />
<ellipse cx="899.0" cy="149.4" rx="7.4" ry="9.6" fill="#6a6a76" stroke="#000" stroke-width="1" transform="rotate(35 899.0 149.4)" /><ellipse cx="898.6" cy="149.2" rx="6.2" ry="8.2" fill="none" stroke="#a8a8b6" stroke-width="0.8" transform="rotate(35 898.6 149.2)" /><ellipse cx="899.8" cy="150.2" rx="4.0" ry="5.4" fill="#fcfcfc" stroke="#000" stroke-width="1" transform="rotate(35 899.8 150.2)" />
<ellipse cx="969.0" cy="196.8" rx="7.4" ry="9.6" fill="#6a6a76" stroke="#000" stroke-width="1" transform="rotate(35 969.0 196.8)" /><ellipse cx="968.6" cy="196.6" rx="6.2" ry="8.2" fill="none" stroke="#a8a8b6" stroke-width="0.8" transform="rotate(35 968.6 196.6)" /><ellipse cx="969.8" cy="197.6" rx="4.0" ry="5.4" fill="#fcfcfc" stroke="#000" stroke-width="1" transform="rotate(35 969.8 197.6)" />
<g transform="rotate(31 936 175)"><rect x="917.5" y="164.2" width="36" height="21.6" rx="8" fill="#c8c8d6" stroke="#222" stroke-width="1"/><rect x="919.5" y="166" width="32" height="18" rx="7" fill="url(#cy1)" stroke="#444" stroke-width="0.6"/></g>
<ellipse cx="945.8" cy="181.0" rx="7.4" ry="9.8" fill="#dcdce8" stroke="#000" stroke-width="1" transform="rotate(31 945.8 181.0)" />
<ellipse cx="945.8" cy="181.0" rx="5.6" ry="8.0" fill="#f0f0f8" stroke="#000" stroke-width="0.8" transform="rotate(31 945.8 181.0)" />
<polygon points="983.0,207.5 990.0,203.0 1001.0,206.6 1004.0,216.5 997.0,224.0 986.5,220.5" fill="#80808e" stroke="#000" stroke-width="1" stroke-linejoin="round" />
<polygon points="983.0,207.5 986.5,205.4 990.0,222.0 986.5,220.5" fill="#4c4c58" stroke="#000" stroke-width="0.6" stroke-linejoin="round" />
<ellipse cx="995.0" cy="215.2" rx="6.4" ry="7.2" fill="#55555f" stroke="#000" stroke-width="0.9" transform="rotate(20 995.0 215.2)" />
<ellipse cx="995.8" cy="215.8" rx="4.4" ry="5.2" fill="#d0d0dc" stroke="#000" stroke-width="0.8" transform="rotate(20 995.8 215.8)" />
<polygon points="309.4,587.0 320.0,585.6 322.0,602.0 312.0,603.4" fill="#55555f" stroke="#000" stroke-width="0.9" stroke-linejoin="round" />
<line x1="311.5" y1="587.4" x2="313.5" y2="602.4" stroke="#aaa" stroke-width="0.5" stroke-linecap="round" />
<line x1="313.9" y1="587.1" x2="315.9" y2="602.1" stroke="#aaa" stroke-width="0.5" stroke-linecap="round" />
<line x1="316.3" y1="586.8" x2="318.3" y2="601.8" stroke="#aaa" stroke-width="0.5" stroke-linecap="round" />
<line x1="318.7" y1="586.5" x2="320.7" y2="601.5" stroke="#aaa" stroke-width="0.5" stroke-linecap="round" />
<polygon points="340.0,582.0 346.0,581.2 349.4,598.4 343.6,599.2" fill="#f4f4f8" stroke="#000" stroke-width="0.8" stroke-linejoin="round" /><path d="M 343.4,589.2 q 3,-2 4,2 l 0.6,5" fill="none" stroke="#000" stroke-width="0.7" stroke-linejoin="round" stroke-linecap="round" />
<polygon points="436.2,567.0 442.2,566.2 445.6,583.4 439.8,584.2" fill="#f4f4f8" stroke="#000" stroke-width="0.8" stroke-linejoin="round" /><path d="M 439.6,574.2 q 3,-2 4,2 l 0.6,5" fill="none" stroke="#000" stroke-width="0.7" stroke-linejoin="round" stroke-linecap="round" />
<polygon points="363.0,584.4 373.6,581.6 374.5,589.6 363.8,590.6" fill="#222230" stroke="#000" stroke-width="0.8" stroke-linejoin="round" />
<polygon points="365.5,585.8 369.4,585.0 369.8,588.6 366.0,589.4" fill="#e8e8f0" stroke="#000" stroke-width="0.4" stroke-linejoin="round" />
<polygon points="373.6,580.8 425.8,573.2 428.0,576.0 428.2,580.6 374.5,589.6" fill="#5c5c72" stroke="#000" stroke-width="1" stroke-linejoin="round" />
<line x1="375.0" y1="582.6" x2="425.5" y2="575.0" stroke="#8a8aa2" stroke-width="0.9" stroke-linecap="round" />
<polygon points="416.0,582.4 428.0,580.6 428.2,582.2 417.0,584.0" fill="#222" stroke="#000" stroke-width="0.4" stroke-linejoin="round" />
<path d="M 366.6,598.6 Q 370,596.6 376,598 L 375.8,600.4 L 372,599.6" fill="#fff" stroke="#000" stroke-width="0.9" stroke-linejoin="round" stroke-linecap="round" />
<path d="M 416.5,588.6 Q 420,587 425,588.2 L 424.8,591.2 L 421,590.4" fill="#fff" stroke="#000" stroke-width="0.9" stroke-linejoin="round" stroke-linecap="round" />
<path d="M 465.4,565.6 L 468.2,565.2 L 470.4,575.6 L 467.6,576.2 Z" fill="#fff" stroke="#000" stroke-width="0.8" stroke-linejoin="round" stroke-linecap="round" />
<path d="M 467,570 L 467.8,575.4 L 470,575" fill="none" stroke="#000" stroke-width="0.8" stroke-linejoin="round" stroke-linecap="round" />
<path d="M 444.8,689.4 L 457.6,688.2 L 457.8,691.4 L 449,692.4 L 448.6,694 L 445.6,693 Z" fill="#fff" stroke="#000" stroke-width="0.8" stroke-linejoin="round" stroke-linecap="round" />
<path d="M 467.8,682 Q 469.6,680.6 470.4,683 L 472,693.6 L 470.6,692 L 468.4,684 Z" fill="#fff" stroke="#000" stroke-width="0.9" stroke-linejoin="round" stroke-linecap="round" />
<path d="M 484.2,544.8 Q 484.4,542.4 488.6,541.6 Q 491.4,541.6 492.6,543.6 Q 495.6,551 496.6,559 L 498.4,576.7 L 500.1,608.7 L 501.9,644.1 L 504.6,679.6 L 505,694.2 L 503,694.4 L 502.8,690 L 501.6,690 L 501.6,695.4 L 499.8,695.4 L 499.6,690 L 498.2,694 L 495.7,679.6 L 492.2,644.1 L 488.6,608.7 L 486,573.2 Z" fill="#0e0e12" stroke="#000" stroke-width="0.8" stroke-linejoin="round" stroke-linecap="round" />
<path d="M 489.6,546 L 491.4,573 L 494,608.7 L 497.4,644.1 L 500.6,688" fill="none" stroke="#70707a" stroke-width="0.9" stroke-linejoin="round" stroke-linecap="round" />
<path d="M 487.4,548 L 489,573 L 491.6,608.7 L 495,644.1 L 498.2,684" fill="none" stroke="#3c3c44" stroke-width="0.6" stroke-linejoin="round" stroke-linecap="round" />
<path d="M 491.6,554 l 1.6,7 M 493.4,556 l 1.6,8 M 494.8,561 l 1,7" fill="none" stroke="#8c8c96" stroke-width="0.5" stroke-linejoin="round" stroke-linecap="round" />
<ellipse cx="537.7" cy="559.2" rx="3.6" ry="24.2" fill="#84848e" stroke="#000" stroke-width="1" transform="rotate(-6 537.7 559.2)" />
<polygon points="538.4,546.0 545.0,545.0 546.0,570.4 540.0,571.4" fill="#f4f4f8" stroke="#555" stroke-width="0.5" stroke-linejoin="round" />
<polygon points="538.0,551.6 541.0,551.0 541.6,568.0 538.6,568.4" fill="#5a5a62" stroke="#000" stroke-width="0.3" stroke-linejoin="round" />
<ellipse cx="546.6" cy="558.4" rx="4.6" ry="25.0" fill="#7c7c86" stroke="#000" stroke-width="1" transform="rotate(-6 546.6 558.4)" />
<ellipse cx="547.4" cy="558.4" rx="2.8" ry="21.0" fill="#a0a0aa" stroke="#000" stroke-width="0.5" transform="rotate(-6 547.4 558.4)" />
<ellipse cx="544.4" cy="558.6" rx="1.6" ry="23.6" fill="#d8d8e0" stroke="#000" stroke-width="0.4" transform="rotate(-6 544.4 558.6)" />
<polygon points="551.0,664.8 566.6,663.0 569.2,667.4 569.4,678.0 567.0,680.8 553.0,684.4" fill="#f2f2f8" stroke="#000" stroke-width="0.9" stroke-linejoin="round" />
<polygon points="552.0,666.6 566.6,664.6 567.6,668.6 553.0,671.0" fill="#55555e" stroke="#000" stroke-width="0.4" stroke-linejoin="round" />
<line x1="553.0" y1="677.0" x2="567.0" y2="674.6" stroke="#999" stroke-width="0.5" stroke-linecap="round" />
<ellipse cx="543.8" cy="674.0" rx="2.8" ry="13.8" fill="#8c8c98" stroke="#000" stroke-width="0.9" transform="rotate(-6 543.8 674.0)" />
<ellipse cx="544.6" cy="674.0" rx="1.3" ry="9.6" fill="#c4c4ce" stroke="#000" stroke-width="0.4" transform="rotate(-6 544.6 674.0)" />
<ellipse cx="549.8" cy="673.4" rx="2.8" ry="13.6" fill="#84848e" stroke="#000" stroke-width="0.9" transform="rotate(-6 549.8 673.4)" />
<ellipse cx="550.4" cy="673.4" rx="1.3" ry="9.0" fill="#b4b4be" stroke="#000" stroke-width="0.4" transform="rotate(-6 550.4 673.4)" />
<ellipse cx="798.8" cy="770.8" rx="2.4" ry="2.4" fill="#0a0a0a" stroke="#000" stroke-width="0" />
<ellipse cx="805.2" cy="772.4" rx="2.4" ry="2.4" fill="#0a0a0a" stroke="#000" stroke-width="0" />
<ellipse cx="827.8" cy="768.2" rx="2.4" ry="2.4" fill="#0a0a0a" stroke="#000" stroke-width="0" />
<ellipse cx="835.2" cy="766.6" rx="2.4" ry="2.4" fill="#0a0a0a" stroke="#000" stroke-width="0" />
<ellipse cx="799.3" cy="776.6" rx="2.4" ry="2.4" fill="#0a0a0a" stroke="#000" stroke-width="0" />
<polygon points="824.3,803.1 848.2,801.6 858.0,798.0 860.0,808.0 848.2,809.6 824.3,814.0" fill="#303038" stroke="#000" stroke-width="0.9" stroke-linejoin="round" />
<polygon points="833.1,800.2 834.6,798.6 837.8,799.0 840.0,801.4 856.2,795.2 859.7,797.0 861.5,803.5 848.0,803.5 833.5,804.0" fill="#303038" stroke="#000" stroke-width="0.9" stroke-linejoin="round" />
<polygon points="841.0,801.8 845.0,800.0 844.6,802.6" fill="#dcdce6" stroke="#000" stroke-width="0" stroke-linejoin="round" />
<polygon points="847.0,800.4 851.4,798.4 851.0,801.6" fill="#dcdce6" stroke="#000" stroke-width="0" stroke-linejoin="round" />
<polygon points="853.6,798.2 857.4,796.6 857.2,800.0" fill="#dcdce6" stroke="#000" stroke-width="0" stroke-linejoin="round" />
<ellipse cx="853.5" cy="806.4" rx="5.4" ry="5.2" fill="#3e3e46" stroke="#000" stroke-width="0.8" />
<polygon points="862.4,794.6 864.4,793.8 866.8,794.6 868.6,803.1 866.8,814.5 864.6,815.2 863.3,814.5 860.6,811.1 862.0,803.0" fill="#26262c" stroke="#000" stroke-width="0.9" stroke-linejoin="round" />
<polygon points="812.8,802.3 824.3,800.0 825.8,815.5 820.3,817.3 819.4,812.2 813.2,813.0" fill="#1c1c22" stroke="#000" stroke-width="0.9" stroke-linejoin="round" />
<polygon points="814.0,804.5 816.2,804.0 816.6,811.0 814.4,811.4" fill="#e0e0ea" stroke="#000" stroke-width="0" stroke-linejoin="round" />
<path d="M 818.6,803.4 l 1.6,-0.3 M 821.6,802.8 l 1.6,-0.3" fill="none" stroke="#e0e0ea" stroke-width="1.1" stroke-linejoin="round" stroke-linecap="round" />
</g>
<g id="leaders">
<line x1="276.3" y1="132.5" x2="238.5" y2="186.0" stroke="#000" stroke-width="1.5" stroke-linecap="round" />
<line x1="340.3" y1="169.1" x2="301.0" y2="222.0" stroke="#000" stroke-width="1.5" stroke-linecap="round" />
<line x1="411.6" y1="215.0" x2="365.6" y2="254.3" stroke="#000" stroke-width="1.5" stroke-linecap="round" />
<line x1="248.8" y1="243.2" x2="266.9" y2="212.2" stroke="#000" stroke-width="1.5" stroke-linecap="round" />
<line x1="298.2" y1="263.2" x2="313.8" y2="235.0" stroke="#000" stroke-width="1.5" stroke-linecap="round" />
<line x1="358.8" y1="296.9" x2="420.9" y2="284.4" stroke="#000" stroke-width="1.5" stroke-linecap="round" />
<line x1="880.3" y1="88.4" x2="848.8" y2="119.9" stroke="#000" stroke-width="1.5" stroke-linecap="round" />
<line x1="945.7" y1="129.0" x2="946.3" y2="184.6" stroke="#000" stroke-width="1.5" stroke-linecap="round" />
<line x1="991.2" y1="162.6" x2="993.6" y2="215.7" stroke="#000" stroke-width="1.5" stroke-linecap="round" />
<line x1="861.9" y1="180.8" x2="896.1" y2="153.4" stroke="#000" stroke-width="1.5" stroke-linecap="round" />
<line x1="918.9" y1="225.1" x2="967.1" y2="194.9" stroke="#000" stroke-width="1.5" stroke-linecap="round" />
<line x1="1452.5" y1="186.6" x2="1392.8" y2="215.9" stroke="#000" stroke-width="1.5" stroke-linecap="round" />
<line x1="1450.1" y1="235.8" x2="1379.8" y2="245.3" stroke="#000" stroke-width="1.5" stroke-linecap="round" />
<line x1="1449.3" y1="280.1" x2="1365.8" y2="283.4" stroke="#000" stroke-width="1.5" stroke-linecap="round" />
<line x1="644.3" y1="317.3" x2="697.5" y2="376.2" stroke="#000" stroke-width="1.5" stroke-linecap="round" />
<line x1="632.7" y1="375.7" x2="728.0" y2="423.0" stroke="#000" stroke-width="1.5" stroke-linecap="round" />
<line x1="618.1" y1="444.5" x2="730.0" y2="486.2" stroke="#000" stroke-width="1.5" stroke-linecap="round" />
<line x1="579.0" y1="502.2" x2="577.5" y2="556.2" stroke="#000" stroke-width="1.5" stroke-linecap="round" />
<line x1="818.2" y1="411.4" x2="821.2" y2="519.5" stroke="#000" stroke-width="1.5" stroke-linecap="round" />
<line x1="905.9" y1="396.2" x2="935.0" y2="434.2" stroke="#000" stroke-width="1.5" stroke-linecap="round" />
<line x1="1058.2" y1="454.6" x2="1127.8" y2="539.8" stroke="#000" stroke-width="1.5" stroke-linecap="round" />
<line x1="1252.1" y1="392.7" x2="1220.7" y2="391.5" stroke="#000" stroke-width="1.5" stroke-linecap="round" />
<line x1="1244.5" y1="444.1" x2="1212.7" y2="441.9" stroke="#000" stroke-width="1.5" stroke-linecap="round" />
<line x1="365.7" y1="520.2" x2="370.5" y2="586.2" stroke="#000" stroke-width="1.5" stroke-linecap="round" />
<line x1="426.0" y1="514.6" x2="441.2" y2="570.0" stroke="#000" stroke-width="1.5" stroke-linecap="round" />
<line x1="476.0" y1="510.3" x2="468.8" y2="573.8" stroke="#000" stroke-width="1.5" stroke-linecap="round" />
<line x1="531.6" y1="505.1" x2="542.5" y2="560.0" stroke="#000" stroke-width="1.5" stroke-linecap="round" />
<line x1="131.9" y1="698.5" x2="159.4" y2="500.0" stroke="#000" stroke-width="1.5" stroke-linecap="round" />
<line x1="250.7" y1="696.3" x2="318.8" y2="601.0" stroke="#000" stroke-width="1.5" stroke-linecap="round" />
<line x1="300.1" y1="694.5" x2="344.5" y2="591.2" stroke="#000" stroke-width="1.5" stroke-linecap="round" />
<line x1="348.7" y1="690.0" x2="370.0" y2="600.0" stroke="#000" stroke-width="1.5" stroke-linecap="round" />
<line x1="399.5" y1="687.2" x2="420.0" y2="590.0" stroke="#000" stroke-width="1.5" stroke-linecap="round" />
<line x1="404.8" y1="765.9" x2="450.0" y2="692.5" stroke="#000" stroke-width="1.5" stroke-linecap="round" />
<line x1="452.2" y1="762.7" x2="468.8" y2="688.8" stroke="#000" stroke-width="1.5" stroke-linecap="round" />
<line x1="502.2" y1="760.8" x2="501.2" y2="695.0" stroke="#000" stroke-width="1.5" stroke-linecap="round" />
<line x1="555.8" y1="764.1" x2="548.8" y2="677.5" stroke="#000" stroke-width="1.5" stroke-linecap="round" />
<line x1="614.9" y1="762.2" x2="633.8" y2="676.2" stroke="#000" stroke-width="1.5" stroke-linecap="round" />
<line x1="668.1" y1="762.2" x2="680.5" y2="661.2" stroke="#000" stroke-width="1.5" stroke-linecap="round" />
<line x1="776.1" y1="795.4" x2="798.8" y2="777.0" stroke="#000" stroke-width="1.5" stroke-linecap="round" />
<line x1="801.7" y1="833.0" x2="821.2" y2="811.2" stroke="#000" stroke-width="1.5" stroke-linecap="round" />
<line x1="976.5" y1="688.5" x2="965.0" y2="633.0" stroke="#000" stroke-width="1.5" stroke-linecap="round" />
<line x1="1044.5" y1="678.2" x2="1037.9" y2="607.0" stroke="#000" stroke-width="1.5" stroke-linecap="round" />
<line x1="1099.6" y1="670.9" x2="1082.8" y2="610.0" stroke="#000" stroke-width="1.5" stroke-linecap="round" />
<line x1="1165.9" y1="665.0" x2="1177.7" y2="606.0" stroke="#000" stroke-width="1.5" stroke-linecap="round" />
<line x1="1451.7" y1="706.2" x2="1451.7" y2="594.0" stroke="#000" stroke-width="1.5" stroke-linecap="round" />
<line x1="952.1" y1="887.4" x2="1022.9" y2="820.0" stroke="#000" stroke-width="1.5" stroke-linecap="round" />
<line x1="1007.8" y1="884.1" x2="1063.9" y2="804.9" stroke="#000" stroke-width="1.5" stroke-linecap="round" />
<line x1="1063.6" y1="882.2" x2="1099.9" y2="787.9" stroke="#000" stroke-width="1.5" stroke-linecap="round" />
<line x1="1260.0" y1="824.5" x2="1223.7" y2="775.9" stroke="#000" stroke-width="1.5" stroke-linecap="round" />
<line x1="1323.6" y1="823.0" x2="1263.7" y2="767.9" stroke="#000" stroke-width="1.5" stroke-linecap="round" />
<line x1="1217.1" y1="888.7" x2="1155.8" y2="879.8" stroke="#000" stroke-width="1.5" stroke-linecap="round" />
<line x1="1184.4" y1="944.3" x2="1145.7" y2="946.2" stroke="#000" stroke-width="1.5" stroke-linecap="round" />
</g>
<g id="callouts">
<circle cx="286.2" cy="118.5" r="18.2" fill="#c4c4ff" stroke="#3a3a55" stroke-opacity="0.55" stroke-width="0.6"/><text transform="translate(285.9 123.2) scale(1.07 0.96)" text-anchor="middle">2</text>
<circle cx="350.6" cy="155.3" r="18.2" fill="#c4c4ff" stroke="#3a3a55" stroke-opacity="0.55" stroke-width="0.6"/><text transform="translate(350.3 160.0) scale(1.07 0.96)" text-anchor="middle">4</text>
<circle cx="424.7" cy="203.8" r="18.2" fill="#c4c4ff" stroke="#3a3a55" stroke-opacity="0.55" stroke-width="0.6"/><text transform="translate(424.4 208.5) scale(1.07 0.96)" text-anchor="middle">6</text>
<circle cx="240.2" cy="258.1" r="18.2" fill="#c4c4ff" stroke="#3a3a55" stroke-opacity="0.55" stroke-width="0.6"/><text transform="translate(239.9 262.8) scale(1.07 0.96)" text-anchor="middle">3</text>
<circle cx="289.8" cy="278.2" r="18.2" fill="#c4c4ff" stroke="#3a3a55" stroke-opacity="0.55" stroke-width="0.6"/><text transform="translate(289.5 282.9) scale(1.07 0.96)" text-anchor="middle">5</text>
<circle cx="341.9" cy="300.3" r="18.2" fill="#c4c4ff" stroke="#3a3a55" stroke-opacity="0.55" stroke-width="0.6"/><text transform="translate(341.6 305.0) scale(1.07 0.96)" text-anchor="middle">7</text>
<circle cx="892.4" cy="76.2" r="18.2" fill="#c4c4ff" stroke="#3a3a55" stroke-opacity="0.55" stroke-width="0.6"/><text transform="translate(892.1 80.9) scale(1.07 0.96)" text-anchor="middle">41</text>
<circle cx="945.5" cy="111.8" r="18.2" fill="#c4c4ff" stroke="#3a3a55" stroke-opacity="0.55" stroke-width="0.6"/><text transform="translate(945.2 116.5) scale(1.07 0.96)" text-anchor="middle">43</text>
<circle cx="990.4" cy="145.4" r="18.2" fill="#c4c4ff" stroke="#3a3a55" stroke-opacity="0.55" stroke-width="0.6"/><text transform="translate(990.1 150.1) scale(1.07 0.96)" text-anchor="middle">44</text>
<circle cx="848.5" cy="191.6" r="18.2" fill="#c4c4ff" stroke="#3a3a55" stroke-opacity="0.55" stroke-width="0.6"/><text transform="translate(848.2 196.3) scale(1.07 0.96)" text-anchor="middle">42</text>
<circle cx="904.3" cy="234.2" r="18.2" fill="#c4c4ff" stroke="#3a3a55" stroke-opacity="0.55" stroke-width="0.6"/><text transform="translate(904.0 238.9) scale(1.07 0.96)" text-anchor="middle">42</text>
<circle cx="1467.9" cy="179.0" r="18.2" fill="#c4c4ff" stroke="#3a3a55" stroke-opacity="0.55" stroke-width="0.6"/><text transform="translate(1467.6 183.7) scale(1.07 0.96)" text-anchor="middle">45</text>
<circle cx="1467.1" cy="233.5" r="18.2" fill="#c4c4ff" stroke="#3a3a55" stroke-opacity="0.55" stroke-width="0.6"/><text transform="translate(1466.8 238.2) scale(1.07 0.96)" text-anchor="middle">46</text>
<circle cx="1466.5" cy="279.4" r="18.2" fill="#c4c4ff" stroke="#3a3a55" stroke-opacity="0.55" stroke-width="0.6"/><text transform="translate(1466.2 284.1) scale(1.07 0.96)" text-anchor="middle">47</text>
<circle cx="632.8" cy="304.5" r="18.2" fill="#c4c4ff" stroke="#3a3a55" stroke-opacity="0.55" stroke-width="0.6"/><text transform="translate(632.5 309.2) scale(1.07 0.96)" text-anchor="middle">49</text>
<circle cx="617.2" cy="368.0" r="18.2" fill="#c4c4ff" stroke="#3a3a55" stroke-opacity="0.55" stroke-width="0.6"/><text transform="translate(617.0 372.7) scale(1.07 0.96)" text-anchor="middle">50</text>
<circle cx="602.0" cy="438.5" r="18.2" fill="#c4c4ff" stroke="#3a3a55" stroke-opacity="0.55" stroke-width="0.6"/><text transform="translate(601.7 443.2) scale(1.07 0.96)" text-anchor="middle">22</text>
<circle cx="579.5" cy="485.0" r="18.2" fill="#c4c4ff" stroke="#3a3a55" stroke-opacity="0.55" stroke-width="0.6"/><text transform="translate(579.2 489.7) scale(1.07 0.96)" text-anchor="middle">21</text>
<circle cx="817.8" cy="394.2" r="18.2" fill="#c4c4ff" stroke="#3a3a55" stroke-opacity="0.55" stroke-width="0.6"/><text transform="translate(817.5 398.9) scale(1.07 0.96)" text-anchor="middle">23</text>
<circle cx="895.5" cy="382.5" r="18.2" fill="#c4c4ff" stroke="#3a3a55" stroke-opacity="0.55" stroke-width="0.6"/><text transform="translate(895.2 387.2) scale(1.07 0.96)" text-anchor="middle">26</text>
<circle cx="1047.3" cy="441.3" r="18.2" fill="#c4c4ff" stroke="#3a3a55" stroke-opacity="0.55" stroke-width="0.6"/><text transform="translate(1047.0 446.0) scale(1.07 0.96)" text-anchor="middle">38</text>
<circle cx="1269.3" cy="393.3" r="18.2" fill="#c4c4ff" stroke="#3a3a55" stroke-opacity="0.55" stroke-width="0.6"/><text transform="translate(1269.0 398.0) scale(1.07 0.96)" text-anchor="middle">39</text>
<circle cx="1261.7" cy="445.3" r="18.2" fill="#c4c4ff" stroke="#3a3a55" stroke-opacity="0.55" stroke-width="0.6"/><text transform="translate(1261.4 450.0) scale(1.07 0.96)" text-anchor="middle">40</text>
<circle cx="364.5" cy="503.0" r="18.2" fill="#c4c4ff" stroke="#3a3a55" stroke-opacity="0.55" stroke-width="0.6"/><text transform="translate(364.2 507.7) scale(1.07 0.96)" text-anchor="middle">10</text>
<circle cx="421.5" cy="498.0" r="18.2" fill="#c4c4ff" stroke="#3a3a55" stroke-opacity="0.55" stroke-width="0.6"/><text transform="translate(421.2 502.7) scale(1.07 0.96)" text-anchor="middle">9</text>
<circle cx="478.0" cy="493.2" r="18.2" fill="#c4c4ff" stroke="#3a3a55" stroke-opacity="0.55" stroke-width="0.6"/><text transform="translate(477.7 497.9) scale(1.07 0.96)" text-anchor="middle">19</text>
<circle cx="528.2" cy="488.2" r="18.2" fill="#c4c4ff" stroke="#3a3a55" stroke-opacity="0.55" stroke-width="0.6"/><text transform="translate(528.0 492.9) scale(1.07 0.96)" text-anchor="middle">20</text>
<circle cx="129.5" cy="715.5" r="18.2" fill="#c4c4ff" stroke="#3a3a55" stroke-opacity="0.55" stroke-width="0.6"/><text transform="translate(129.2 720.2) scale(1.07 0.96)" text-anchor="middle">2</text>
<circle cx="240.8" cy="710.2" r="18.2" fill="#c4c4ff" stroke="#3a3a55" stroke-opacity="0.55" stroke-width="0.6"/><text transform="translate(240.4 715.0) scale(1.07 0.96)" text-anchor="middle">8</text>
<circle cx="293.2" cy="710.2" r="18.2" fill="#c4c4ff" stroke="#3a3a55" stroke-opacity="0.55" stroke-width="0.6"/><text transform="translate(292.9 715.0) scale(1.07 0.96)" text-anchor="middle">9</text>
<circle cx="344.8" cy="706.8" r="18.2" fill="#c4c4ff" stroke="#3a3a55" stroke-opacity="0.55" stroke-width="0.6"/><text transform="translate(344.4 711.5) scale(1.07 0.96)" text-anchor="middle">11</text>
<circle cx="396.0" cy="704.0" r="18.2" fill="#c4c4ff" stroke="#3a3a55" stroke-opacity="0.55" stroke-width="0.6"/><text transform="translate(395.7 708.7) scale(1.07 0.96)" text-anchor="middle">12</text>
<circle cx="395.8" cy="780.5" r="18.2" fill="#c4c4ff" stroke="#3a3a55" stroke-opacity="0.55" stroke-width="0.6"/><text transform="translate(395.4 785.2) scale(1.07 0.96)" text-anchor="middle">13</text>
<circle cx="448.5" cy="779.5" r="18.2" fill="#c4c4ff" stroke="#3a3a55" stroke-opacity="0.55" stroke-width="0.6"/><text transform="translate(448.2 784.2) scale(1.07 0.96)" text-anchor="middle">14</text>
<circle cx="502.5" cy="778.0" r="18.2" fill="#c4c4ff" stroke="#3a3a55" stroke-opacity="0.55" stroke-width="0.6"/><text transform="translate(502.2 782.7) scale(1.07 0.96)" text-anchor="middle">15</text>
<circle cx="557.2" cy="781.2" r="18.2" fill="#c4c4ff" stroke="#3a3a55" stroke-opacity="0.55" stroke-width="0.6"/><text transform="translate(557.0 786.0) scale(1.07 0.96)" text-anchor="middle">16</text>
<circle cx="611.2" cy="779.0" r="18.2" fill="#c4c4ff" stroke="#3a3a55" stroke-opacity="0.55" stroke-width="0.6"/><text transform="translate(611.0 783.7) scale(1.07 0.96)" text-anchor="middle">17</text>
<circle cx="666.0" cy="779.2" r="18.2" fill="#c4c4ff" stroke="#3a3a55" stroke-opacity="0.55" stroke-width="0.6"/><text transform="translate(665.7 784.0) scale(1.07 0.96)" text-anchor="middle">18</text>
<circle cx="762.8" cy="806.2" r="18.2" fill="#c4c4ff" stroke="#3a3a55" stroke-opacity="0.55" stroke-width="0.6"/><text transform="translate(762.5 811.0) scale(1.07 0.96)" text-anchor="middle">24</text>
<circle cx="790.2" cy="845.8" r="18.2" fill="#c4c4ff" stroke="#3a3a55" stroke-opacity="0.55" stroke-width="0.6"/><text transform="translate(790.0 850.5) scale(1.07 0.96)" text-anchor="middle">25</text>
<circle cx="980.0" cy="705.3" r="18.2" fill="#c4c4ff" stroke="#3a3a55" stroke-opacity="0.55" stroke-width="0.6"/><text transform="translate(979.7 710.0) scale(1.07 0.96)" text-anchor="middle">27</text>
<circle cx="1046.1" cy="695.3" r="18.2" fill="#c4c4ff" stroke="#3a3a55" stroke-opacity="0.55" stroke-width="0.6"/><text transform="translate(1045.8 700.0) scale(1.07 0.96)" text-anchor="middle">35</text>
<circle cx="1104.2" cy="687.5" r="18.2" fill="#c4c4ff" stroke="#3a3a55" stroke-opacity="0.55" stroke-width="0.6"/><text transform="translate(1103.9 692.2) scale(1.07 0.96)" text-anchor="middle">36</text>
<circle cx="1162.5" cy="681.9" r="18.2" fill="#c4c4ff" stroke="#3a3a55" stroke-opacity="0.55" stroke-width="0.6"/><text transform="translate(1162.2 686.6) scale(1.07 0.96)" text-anchor="middle">37</text>
<circle cx="1451.7" cy="723.4" r="18.2" fill="#c4c4ff" stroke="#3a3a55" stroke-opacity="0.55" stroke-width="0.6"/><text transform="translate(1451.4 728.1) scale(1.07 0.96)" text-anchor="middle">48</text>
<circle cx="939.6" cy="899.3" r="18.2" fill="#c4c4ff" stroke="#3a3a55" stroke-opacity="0.55" stroke-width="0.6"/><text transform="translate(939.3 904.0) scale(1.07 0.96)" text-anchor="middle">28</text>
<circle cx="997.9" cy="898.1" r="18.2" fill="#c4c4ff" stroke="#3a3a55" stroke-opacity="0.55" stroke-width="0.6"/><text transform="translate(997.6 902.8) scale(1.07 0.96)" text-anchor="middle">31</text>
<circle cx="1057.4" cy="898.3" r="18.2" fill="#c4c4ff" stroke="#3a3a55" stroke-opacity="0.55" stroke-width="0.6"/><text transform="translate(1057.1 903.0) scale(1.07 0.96)" text-anchor="middle">32</text>
<circle cx="1270.3" cy="838.3" r="18.2" fill="#f4696f" stroke="#3a3a55" stroke-opacity="0.55" stroke-width="0.6"/><text transform="translate(1270.0 843.0) scale(1.07 0.96)" text-anchor="middle">33</text>
<circle cx="1336.3" cy="834.6" r="18.2" fill="#c4c4ff" stroke="#3a3a55" stroke-opacity="0.55" stroke-width="0.6"/><text transform="translate(1336.0 839.3) scale(1.07 0.96)" text-anchor="middle">34</text>
<circle cx="1234.1" cy="891.2" r="18.2" fill="#c4c4ff" stroke="#3a3a55" stroke-opacity="0.55" stroke-width="0.6"/><text transform="translate(1233.8 895.9) scale(1.07 0.96)" text-anchor="middle">30</text>
<circle cx="1201.6" cy="943.4" r="18.2" fill="#c4c4ff" stroke="#3a3a55" stroke-opacity="0.55" stroke-width="0.6"/><text transform="translate(1201.3 948.1) scale(1.07 0.96)" text-anchor="middle">29</text>
</g>
</svg>
</body></html>
